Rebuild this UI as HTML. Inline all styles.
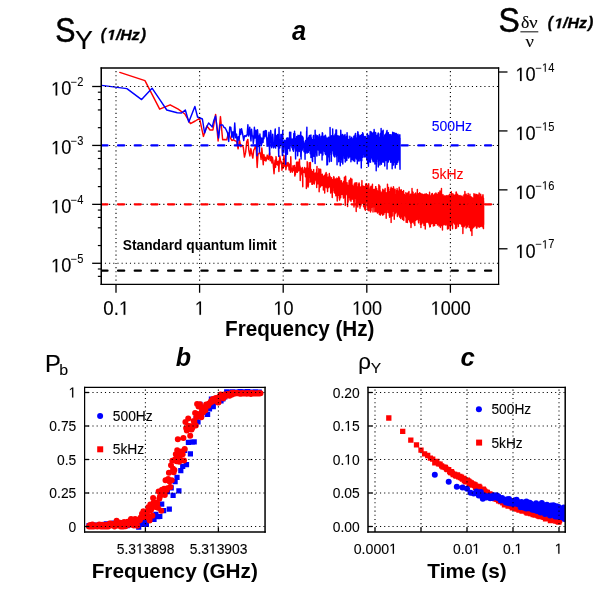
<!DOCTYPE html>
<html><head><meta charset="utf-8"><title>figure</title>
<style>html,body{margin:0;padding:0;background:#fff;}body{width:600px;height:600px;overflow:hidden;position:relative;font-family:"Liberation Sans",sans-serif;}</style></head>
<body>
<svg width="600" height="600" viewBox="0 0 600 600" style="position:absolute;left:0;top:0;will-change:transform">
<defs>
<clipPath id="ca"><rect x="101.25" y="68.0" width="397.35" height="216.35000000000002"/></clipPath>
<clipPath id="cb"><rect x="84.6" y="387.4" width="180.45000000000002" height="144.60000000000002"/></clipPath>
<clipPath id="cc"><rect x="368.0" y="387.4" width="197.20000000000005" height="144.60000000000002"/></clipPath>
</defs>
<g clip-path="url(#ca)" fill="none" stroke-linejoin="round" stroke-linecap="round">
<path d="M119.79,72.4 144.96,80.6 159.68,109.2 170.12,104.8 178.22,109.2 184.84,114.0 190.44,123.6 195.29,121.0 199.56,118.4 203.39,136.4 206.85,126.0 210.01,130.0 212.91,130.0 215.61,114.4 218.11,141.0 220.45,116.6 222.65,139.7 224.73,139.5 226.69,139.7 228.56,132.9 230.33,137.8 232.02,140.5 233.63,139.7 235.17,140.9 236.66,141.4 238.08,148.8 239.45,140.2 240.77,146.7 242.05,145.2 243.28,147.2 244.47,157.1 245.62,152.4 246.74,141.9 247.82,139.4 248.87,150.7 249.90,155.9 250.89,148.6 251.86,154.2 252.80,158.1 253.72,150.2 254.62,148.7 255.49,145.5 256.35,151.5 257.18,167.5 258.00,153.9 258.80,153.7 259.58,152.0 260.34,153.4 261.09,159.5 261.82,148.0 262.54,155.9 263.25,164.8 263.94,154.6 264.62,160.3 265.28,157.3 265.94,161.1 266.58,159.1 267.21,155.1 267.83,158.1 268.44,159.5 269.04,155.2 269.63,152.7 270.21,160.7 270.79,159.9 271.35,156.4 271.90,163.0 272.45,157.3 272.99,160.5 273.52,167.8 274.04,173.8 274.55,165.4 275.06,160.3 275.56,167.3 276.06,156.6 276.54,160.3 277.03,164.4 277.50,161.7 277.97,165.3 278.43,161.3 278.89,171.5 279.34,161.6 279.78,156.0 280.22,158.6 280.66,161.1 281.09,163.8 281.51,161.9 281.93,170.2 282.35,163.2 282.76,164.5 283.16,168.3 283.56,159.8 283.96,155.4 284.35,165.9 284.74,159.1 285.13,166.8 285.51,158.5 285.88,169.7 286.26,167.3 286.62,163.3 286.99,162.9 287.35,166.0 287.71,165.7 288.06,162.5 288.41,163.7 288.76,166.0 289.10,170.0 289.45,164.1 289.78,164.5 290.12,165.3 290.45,172.3 290.78,156.7 291.10,166.8 291.43,169.0 291.75,168.5 292.06,171.5 292.38,172.2 292.69,169.0 293.00,165.7 293.30,169.8 293.61,170.6 293.91,168.5 294.21,167.6 294.51,165.5 294.80,176.1 295.09,172.6 295.38,174.6 295.67,167.5 295.95,168.8 296.23,172.1 296.51,162.3 296.79,162.4 297.07,170.9 297.34,172.3 297.61,167.5 297.88,161.9 298.15,168.6 298.42,169.5 298.68,170.8 298.95,166.8 299.21,165.9 299.46,159.3 299.72,169.4 299.98,166.0 300.23,180.5 300.48,167.6 300.85,174.9 300.85,170.1 301.35,168.6 301.35,168.6 301.83,168.6 301.83,173.5 302.31,170.0 302.31,167.4 302.78,186.8 302.78,171.0 303.25,171.2 303.25,171.0 303.71,171.7 303.71,171.5 304.17,168.8 304.17,172.4 304.62,167.4 304.62,172.4 305.06,168.1 305.06,170.8 305.50,175.6 305.50,176.8 305.93,170.0 305.93,169.3 306.36,171.9 306.36,188.4 306.78,172.2 306.78,167.7 307.20,185.7 307.20,161.8 307.62,169.0 307.62,181.4 308.03,168.1 308.03,187.1 308.43,184.8 308.43,174.1 308.83,174.0 308.83,168.1 309.23,177.4 309.23,162.7 309.62,168.2 309.62,177.5 310.00,167.2 310.00,182.3 310.39,162.5 310.39,178.0 310.77,169.4 310.77,175.8 311.14,181.6 311.14,169.5 311.51,174.5 311.51,175.4 311.88,177.9 311.88,184.2 312.25,171.5 312.25,175.0 312.61,184.3 312.61,174.8 312.96,173.8 312.96,180.0 313.32,177.1 313.32,183.0 313.67,169.6 313.67,175.3 314.01,175.1 314.01,181.3 314.36,183.9 314.36,180.1 314.70,182.2 314.70,176.2 315.03,180.8 315.03,173.2 315.37,173.1 315.37,175.0 315.70,176.5 315.70,179.7 316.03,177.4 316.03,174.7 316.35,175.4 316.35,174.4 316.67,169.4 316.67,187.5 316.99,166.5 316.99,181.7 317.31,179.1 317.31,176.5 317.62,183.8 317.62,177.1 317.93,173.5 317.93,183.7 318.24,175.6 318.24,182.3 318.55,177.8 318.55,179.6 318.85,168.8 318.85,172.2 319.15,179.0 319.15,191.8 319.45,181.8 319.45,185.1 319.74,169.6 319.74,176.1 320.04,183.1 320.04,182.8 320.33,181.4 320.33,186.9 320.62,172.4 320.62,169.3 320.90,175.1 320.90,174.8 321.19,180.9 321.19,185.7 321.47,178.1 321.47,184.9 321.75,181.6 321.75,182.3 322.03,183.9 322.03,185.6 322.30,179.8 322.30,174.2 322.58,183.2 322.58,178.6 322.85,184.7 322.85,180.7 323.12,182.9 323.12,176.1 323.39,183.7 323.39,189.9 323.65,176.8 323.65,183.8 323.91,180.2 323.91,186.7 324.18,180.2 324.18,183.3 324.44,184.3 324.44,175.5 324.69,193.1 324.69,191.6 324.95,184.4 324.95,176.2 325.20,178.2 325.20,176.3 325.46,174.1 325.46,184.8 325.77,176.3 325.77,187.1 326.14,183.0 326.14,172.5 326.51,186.9 326.51,181.7 326.88,187.5 326.88,174.2 327.24,188.7 327.24,182.5 327.60,191.6 327.60,180.1 327.95,185.9 327.95,177.6 328.30,177.3 328.30,187.7 328.65,180.8 328.65,184.1 328.99,186.8 328.99,179.7 329.33,173.5 329.33,183.6 329.67,185.4 329.67,177.3 330.01,185.8 330.01,176.1 330.34,178.9 330.34,188.1 330.67,178.9 330.67,193.0 330.99,178.2 330.99,184.2 331.31,182.6 331.31,178.1 331.63,189.3 331.63,177.6 331.95,185.4 331.95,181.1 332.26,197.6 332.26,179.4 332.58,187.5 332.58,180.2 332.89,181.3 332.89,185.8 333.19,187.5 333.19,183.8 333.50,186.5 333.50,184.0 333.80,176.6 333.80,190.8 334.10,177.5 334.10,192.2 334.39,183.8 334.39,190.5 334.69,181.0 334.69,192.9 334.98,180.2 334.98,184.1 335.27,187.5 335.27,190.2 335.55,190.7 335.55,178.9 335.84,195.8 335.84,184.8 336.12,181.7 336.12,186.9 336.40,182.3 336.40,191.7 336.68,192.2 336.68,181.7 336.96,178.1 336.96,189.0 337.23,201.0 337.23,178.5 337.50,198.2 337.50,182.3 337.77,191.2 337.77,187.6 338.04,192.9 338.04,181.3 338.31,185.5 338.31,191.1 338.57,195.3 338.57,178.9 338.83,176.8 338.83,184.1 339.09,181.2 339.09,186.9 339.35,182.6 339.35,194.6 339.61,200.1 339.61,178.1 339.86,190.4 339.86,179.8 340.12,186.7 340.12,195.2 340.37,184.7 340.37,185.9 340.66,188.0 340.66,197.7 340.99,187.2 340.99,192.0 341.31,184.4 341.31,180.6 341.64,191.2 341.64,185.4 341.96,194.3 341.96,187.0 342.28,183.5 342.28,189.3 342.59,190.1 342.59,185.8 342.90,182.7 342.90,194.0 343.21,185.4 343.21,195.6 343.52,198.1 343.52,181.4 343.83,195.1 343.83,181.6 344.13,194.2 344.13,186.9 344.43,196.7 344.43,177.2 344.73,188.1 344.73,189.9 345.02,184.9 345.02,198.0 345.31,205.4 345.31,182.9 345.60,194.2 345.60,176.3 345.89,182.6 345.89,192.2 346.18,188.2 346.18,191.5 346.46,193.2 346.46,184.0 346.74,184.3 346.74,193.6 347.02,194.8 347.02,182.7 347.30,193.5 347.30,186.8 347.57,187.8 347.57,206.4 347.85,185.6 347.85,195.1 348.12,202.1 348.12,188.8 348.38,187.6 348.38,196.7 348.65,191.5 348.65,186.8 348.92,190.4 348.92,184.9 349.18,180.6 349.18,196.3 349.44,197.6 349.44,191.4 349.70,180.1 349.70,192.4 349.96,185.7 349.96,200.1 350.21,185.6 350.21,195.1 350.47,181.7 350.47,197.3 350.72,191.3 350.72,178.3 351.00,188.9 351.00,201.2 351.31,186.1 351.31,194.9 351.62,192.2 351.62,185.1 351.92,179.3 351.92,197.1 352.22,188.9 352.22,199.1 352.52,195.7 352.52,185.2 352.82,188.0 352.82,194.4 353.12,188.3 353.12,191.9 353.41,199.8 353.41,190.4 353.70,201.9 353.70,188.4 353.99,186.3 353.99,207.0 354.27,200.6 354.27,184.0 354.56,185.1 354.56,198.7 354.84,187.8 354.84,190.4 355.12,196.0 355.12,182.8 355.39,196.0 355.39,184.9 355.67,187.8 355.67,196.6 355.94,189.3 355.94,200.0 356.21,211.6 356.21,191.1 356.48,201.5 356.48,183.3 356.75,205.5 356.75,182.8 357.01,201.7 357.01,189.7 357.27,198.8 357.27,189.6 357.54,195.1 357.54,191.9 357.79,207.1 357.79,187.0 358.05,199.2 358.05,193.3 358.31,197.7 358.31,186.4 358.56,203.0 358.56,183.9 358.81,198.3 358.81,189.1 359.09,182.9 359.09,200.3 359.39,184.0 359.39,204.0 359.68,189.2 359.68,205.7 359.97,187.8 359.97,208.2 360.26,197.3 360.26,191.1 360.55,206.2 360.55,186.9 360.84,188.9 360.84,196.9 361.12,187.6 361.12,204.9 361.40,188.6 361.40,201.1 361.68,198.0 361.68,189.5 361.96,180.6 361.96,193.2 362.24,187.8 362.24,201.0 362.51,186.8 362.51,203.3 362.78,188.5 362.78,200.2 363.05,203.3 363.05,186.0 363.32,200.9 363.32,186.4 363.58,206.8 363.58,190.8 363.85,190.5 363.85,199.6 364.11,202.3 364.11,189.9 364.37,200.5 364.37,189.1 364.62,186.6 364.62,209.1 364.88,207.4 364.88,187.7 365.13,191.4 365.13,203.4 365.39,192.2 365.39,210.2 365.66,199.8 365.66,184.0 365.95,207.3 365.95,185.9 366.24,188.6 366.24,202.6 366.52,201.6 366.52,183.7 366.80,187.4 366.80,200.0 367.08,190.8 367.08,202.0 367.36,200.9 367.36,192.4 367.64,185.8 367.64,204.8 367.91,210.1 367.91,191.7 368.19,196.5 368.19,189.3 368.46,205.5 368.46,195.2 368.73,204.6 368.73,183.7 368.99,190.7 368.99,210.7 369.26,189.3 369.26,200.7 369.52,188.9 369.52,205.3 369.78,190.2 369.78,203.6 370.04,192.5 370.04,207.4 370.30,204.4 370.30,191.6 370.55,212.0 370.55,186.9 370.81,208.3 370.81,189.2 371.06,210.6 371.06,186.1 371.33,202.9 371.33,191.3 371.61,207.2 371.61,188.1 371.89,203.6 371.89,188.3 372.17,207.0 372.17,191.8 372.45,184.3 372.45,199.6 372.72,206.3 372.72,189.8 372.99,192.3 372.99,212.0 373.27,204.6 373.27,189.9 373.53,192.1 373.53,206.9 373.80,204.5 373.80,189.9 374.07,189.3 374.07,204.0 374.33,203.9 374.33,192.5 374.59,192.7 374.59,205.8 374.85,189.6 374.85,211.7 375.11,191.3 375.11,206.8 375.36,206.4 375.36,191.3 375.62,203.3 375.62,186.8 375.87,205.7 375.87,186.6 376.13,211.8 376.13,192.3 376.41,209.8 376.41,189.5 376.69,188.6 376.69,204.2 376.97,207.8 376.97,190.5 377.24,190.7 377.24,210.7 377.51,193.3 377.51,213.1 377.78,208.0 377.78,192.7 378.05,208.5 378.05,192.0 378.31,191.6 378.31,202.7 378.57,212.0 378.57,191.2 378.84,208.0 378.84,184.8 379.09,192.2 379.09,207.8 379.35,195.7 379.35,214.5 379.61,189.2 379.61,205.3 379.86,186.1 379.86,204.1 380.11,202.7 380.11,190.4 380.38,195.4 380.38,215.1 380.66,208.1 380.66,192.3 380.93,194.1 380.93,207.7 381.20,192.7 381.20,206.7 381.47,209.5 381.47,195.8 381.74,213.8 381.74,193.6 382.01,194.9 382.01,206.3 382.27,191.2 382.27,211.9 382.53,207.8 382.53,194.4 382.79,215.3 382.79,189.2 383.05,191.5 383.05,211.6 383.31,207.7 383.31,197.4 383.56,194.0 383.56,207.1 383.82,214.2 383.82,194.8 384.07,211.4 384.07,190.3 384.33,205.5 384.33,192.0 384.60,191.4 384.60,212.4 384.87,195.8 384.87,212.1 385.14,188.5 385.14,211.8 385.41,211.4 385.41,195.2 385.67,208.6 385.67,192.5 385.93,208.3 385.93,192.7 386.19,218.3 386.19,193.7 386.45,206.6 386.45,193.9 386.71,195.6 386.71,212.8 386.97,205.1 386.97,195.8 387.22,192.6 387.22,205.9 387.47,206.9 387.47,184.1 387.73,208.9 387.73,189.4 388.00,207.1 388.00,187.6 388.27,197.1 388.27,212.6 388.54,187.4 388.54,210.3 388.80,210.8 388.80,191.4 389.07,205.3 389.07,191.5 389.33,215.7 389.33,196.3 389.59,195.7 389.59,217.2 389.84,193.4 389.84,211.5 390.10,212.3 390.10,193.0 390.35,211.6 390.35,189.3 390.60,192.9 390.60,215.1 390.87,210.8 390.87,188.3 391.13,222.4 391.13,187.3 391.40,206.7 391.40,195.3 391.67,213.8 391.67,190.0 391.93,193.6 391.93,212.1 392.19,216.0 392.19,192.5 392.45,188.6 392.45,207.6 392.71,191.2 392.71,211.3 392.96,211.0 392.96,188.9 393.22,210.1 393.22,191.8 393.47,209.8 393.47,186.7 393.73,189.4 393.73,210.3 394.00,192.3 394.00,216.2 394.26,191.1 394.26,219.2 394.53,194.0 394.53,215.1 394.79,212.3 394.79,194.7 395.05,189.3 395.05,211.2 395.31,196.4 395.31,212.9 395.56,213.1 395.56,196.5 395.82,195.0 395.82,210.8 396.07,194.4 396.07,211.3 396.32,207.0 396.32,197.3 396.58,210.3 396.58,190.5 396.85,195.1 396.85,210.4 397.11,188.6 397.11,213.0 397.37,195.7 397.37,216.4 397.63,209.9 397.63,193.9 397.89,215.0 397.89,190.9 398.14,209.3 398.14,192.0 398.40,210.7 398.40,194.4 398.65,212.1 398.65,191.3 398.91,190.9 398.91,213.5 399.17,213.3 399.17,187.2 399.44,194.3 399.44,215.6 399.70,217.1 399.70,193.3 399.96,214.3 399.96,189.9 400.22,191.7 400.22,212.5 400.47,194.1 400.47,212.1 400.73,193.4 400.73,218.5 400.98,194.3 400.98,213.7 401.24,214.3 401.24,189.8 401.50,193.6 401.50,213.4 401.76,216.7 401.76,194.7 402.02,191.7 402.02,208.2 402.28,207.0 402.28,191.8 402.54,219.4 402.54,196.6 402.80,211.0 402.80,193.9 403.05,192.4 403.05,212.1 403.30,192.3 403.30,213.3 403.56,190.6 403.56,214.3 403.82,220.4 403.82,196.7 404.08,215.2 404.08,194.3 404.34,194.4 404.34,214.2 404.60,215.7 404.60,195.9 404.85,215.8 404.85,196.7 405.11,214.8 405.11,198.0 405.36,215.7 405.36,196.7 405.61,195.4 405.61,214.9 405.88,217.3 405.88,192.6 406.14,196.6 406.14,222.3 406.39,194.7 406.39,215.7 406.65,198.4 406.65,216.8 406.91,198.4 406.91,218.0 407.16,215.7 407.16,198.1 407.41,193.4 407.41,222.4 407.67,193.5 407.67,215.1 407.93,214.2 407.93,197.4 408.18,196.6 408.18,219.2 408.44,192.6 408.44,214.0 408.70,217.2 408.70,196.5 408.95,191.5 408.95,212.6 409.20,219.6 409.20,195.9 409.46,220.8 409.46,198.6 409.72,220.8 409.72,196.3 409.98,196.5 409.98,222.1 410.23,214.8 410.23,197.2 410.49,215.8 410.49,194.2 410.74,197.5 410.74,223.6 410.99,195.0 410.99,227.6 411.25,215.8 411.25,198.4 411.51,213.9 411.51,194.2 411.77,193.9 411.77,222.7 412.02,188.5 412.02,217.1 412.28,191.7 412.28,215.6 412.53,212.6 412.53,194.0 412.79,222.0 412.79,194.2 413.05,192.3 413.05,218.8 413.30,213.1 413.30,195.6 413.56,196.6 413.56,218.0 413.82,220.9 413.82,195.4 414.07,200.1 414.07,223.8 414.32,194.8 414.32,216.6 414.57,219.8 414.57,194.0 414.83,195.7 414.83,225.4 415.09,197.5 415.09,214.5 415.34,194.3 415.34,220.6 415.60,192.9 415.60,214.3 415.85,194.7 415.85,212.5 416.10,196.8 416.10,219.9 416.36,197.3 416.36,214.8 416.62,195.6 416.62,219.6 416.87,197.6 416.87,217.1 417.13,216.8 417.13,196.8 417.38,189.5 417.38,214.9 417.63,195.0 417.63,217.3 417.89,197.8 417.89,219.0 418.14,219.8 418.14,197.5 418.40,194.3 418.40,220.8 418.65,222.8 418.65,193.7 418.91,193.7 418.91,216.4 419.16,194.7 419.16,217.2 419.42,215.8 419.42,197.4 419.67,213.5 419.67,192.6 419.93,218.5 419.93,195.6 420.18,221.0 420.18,197.6 420.43,224.5 420.43,197.6 420.69,195.7 420.69,221.6 420.94,193.6 420.94,227.5 421.20,196.4 421.20,216.5 421.45,214.6 421.45,196.0 421.70,196.1 421.70,224.0 421.96,216.3 421.96,194.3 422.21,217.1 422.21,197.4 422.47,194.2 422.47,216.3 422.72,196.3 422.72,214.0 422.97,215.3 422.97,194.6 423.23,198.5 423.23,222.9 423.48,221.4 423.48,199.2 423.74,195.3 423.74,217.5 423.99,194.4 423.99,225.6 424.24,197.4 424.24,221.0 424.50,197.7 424.50,224.2 424.75,194.3 424.75,219.3 425.00,195.7 425.00,221.8 425.26,197.8 425.26,228.9 425.51,220.1 425.51,197.9 425.77,220.1 425.77,194.5 426.02,193.9 426.02,219.8 426.27,197.4 426.27,222.2 426.53,194.0 426.53,222.1 426.78,195.0 426.78,220.2 427.04,196.5 427.04,220.3 427.29,222.1 427.29,194.6 427.54,217.1 427.54,196.7 427.80,213.6 427.80,197.6 428.06,197.2 428.06,213.0 428.31,199.9 428.31,222.5 428.56,219.4 428.56,195.0 428.81,195.7 428.81,216.0 429.07,199.5 429.07,224.1 429.32,198.5 429.32,220.5 429.57,192.2 429.57,225.2 429.82,226.9 429.82,198.7 430.08,219.7 430.08,197.3 430.33,196.4 430.33,226.6 430.58,197.0 430.58,216.0 430.84,223.5 430.84,195.8 431.09,197.0 431.09,216.0 431.34,220.3 431.34,198.1 431.59,194.1 431.59,223.8 431.85,217.3 431.85,195.1 432.10,197.9 432.10,218.6 432.35,193.4 432.35,217.8 432.61,196.3 432.61,223.3 432.86,217.9 432.86,195.6 433.12,197.7 433.12,220.1 433.37,198.5 433.37,226.0 433.62,218.6 433.62,198.2 433.88,219.1 433.88,194.9 434.13,223.0 434.13,197.1 434.38,197.6 434.38,225.1 434.64,225.5 434.64,193.9 434.89,195.8 434.89,220.4 435.14,220.9 435.14,196.6 435.40,221.1 435.40,197.9 435.65,223.2 435.65,197.6 435.90,222.3 435.90,192.9 436.16,221.9 436.16,198.0 436.41,196.4 436.41,221.5 436.66,223.2 436.66,194.3 436.91,219.6 436.91,196.0 437.17,219.5 437.17,194.3 437.42,195.0 437.42,224.9 437.67,222.6 437.67,200.8 437.93,220.9 437.93,194.8 438.18,196.4 438.18,222.7 438.43,192.6 438.43,218.4 438.68,224.4 438.68,196.0 438.93,194.5 438.93,225.9 439.19,195.5 439.19,219.9 439.44,198.5 439.44,225.0 439.69,223.3 439.69,197.6 439.95,191.0 439.95,224.2 440.20,195.7 440.20,224.1 440.45,227.4 440.45,196.0 440.70,222.8 440.70,198.3 440.96,195.3 440.96,225.8 441.21,221.0 441.21,197.6 441.46,188.5 441.46,223.4 441.71,221.8 441.71,199.8 441.97,196.8 441.97,220.8 442.22,220.2 442.22,196.6 442.47,230.0 442.47,195.6 442.72,218.8 442.72,196.7 442.98,194.6 442.98,221.4 443.23,200.0 443.23,218.4 443.48,197.9 443.48,224.7 443.73,199.0 443.73,224.1 443.98,220.3 443.98,198.5 444.23,195.9 444.23,221.1 444.49,219.9 444.49,196.3 444.74,197.9 444.74,220.5 444.99,195.9 444.99,224.7 445.24,218.9 445.24,197.4 445.50,224.0 445.50,199.0 445.75,224.9 445.75,198.3 446.00,195.9 446.00,225.0 446.25,218.8 446.25,198.4 446.50,196.9 446.50,221.6 446.76,196.5 446.76,221.1 447.01,219.9 447.01,195.4 447.26,196.7 447.26,223.5 447.51,198.9 447.51,229.0 447.77,196.4 447.77,224.5 448.02,222.5 448.02,199.0 448.27,198.0 448.27,221.2 448.52,228.5 448.52,195.7 448.77,197.9 448.77,219.0 449.03,225.6 449.03,195.2 449.28,219.3 449.28,195.8 449.53,225.0 449.53,194.1 449.78,220.8 449.78,198.2 450.03,222.0 450.03,197.1 450.28,196.4 450.28,229.9 450.54,197.2 450.54,219.9 450.79,222.9 450.79,199.7 451.04,219.2 451.04,198.2 451.29,191.8 451.29,221.7 451.55,197.3 451.55,225.0 451.80,221.2 451.80,197.4 452.05,222.8 452.05,196.9 452.30,219.8 452.30,198.1 452.55,228.8 452.55,198.7 452.80,221.1 452.80,193.6 453.06,221.3 453.06,198.2 453.31,219.7 453.31,196.4 453.56,194.9 453.56,222.3 453.81,222.8 453.81,198.9 454.07,195.3 454.07,221.9 454.32,220.7 454.32,197.0 454.57,224.0 454.57,195.3 454.82,221.0 454.82,199.6 455.07,195.7 455.07,221.7 455.33,220.1 455.33,196.6 455.58,194.7 455.58,228.4 455.83,198.1 455.83,220.6 456.08,223.2 456.08,192.2 456.34,192.1 456.34,223.7 456.59,198.1 456.59,228.0 456.84,198.2 456.84,224.3 457.09,222.7 457.09,197.2 457.35,200.5 457.35,220.7 457.60,221.2 457.60,194.1 457.85,200.0 457.85,222.9 458.10,196.5 458.10,220.1 458.35,198.1 458.35,226.5 458.61,197.9 458.61,220.9 458.86,195.7 458.86,222.4 459.11,220.7 459.11,198.1 459.36,199.3 459.36,223.6 459.61,220.1 459.61,196.3 459.86,222.9 459.86,197.5 460.11,222.7 460.11,195.5 460.37,198.6 460.37,222.7 460.62,223.7 460.62,200.1 460.87,222.5 460.87,196.5 461.12,200.3 461.12,222.4 461.37,196.3 461.37,224.2 461.62,222.1 461.62,198.7 461.87,226.2 461.87,198.0 462.13,196.1 462.13,221.7 462.38,219.2 462.38,198.3 462.63,222.7 462.63,198.2 462.88,197.9 462.88,233.4 463.13,197.4 463.13,223.1 463.38,197.9 463.38,222.7 463.63,197.1 463.63,223.3 463.89,223.0 463.89,194.9 464.14,199.1 464.14,226.7 464.39,224.9 464.39,197.0 464.64,198.4 464.64,223.7 464.89,191.4 464.89,224.5 465.14,197.8 465.14,223.7 465.39,199.0 465.39,224.9 465.65,198.6 465.65,222.8 465.90,223.4 465.90,196.8 466.15,227.9 466.15,194.1 466.40,225.1 466.40,197.1 466.65,223.0 466.65,196.9 466.90,219.5 466.90,196.2 467.15,219.3 467.15,196.6 467.41,226.8 467.41,196.5 467.66,195.4 467.66,223.4 467.91,221.6 467.91,198.1 468.16,193.5 468.16,224.2 468.41,196.8 468.41,224.1 468.66,198.4 468.66,224.4 468.91,225.1 468.91,196.1 469.17,196.8 469.17,227.5 469.42,222.1 469.42,196.5 469.67,196.1 469.67,221.5 469.92,220.6 469.92,194.2 470.17,227.7 470.17,197.1 470.42,223.9 470.42,196.8 470.67,230.7 470.67,198.3 470.92,196.8 470.92,226.4 471.17,220.1 471.17,200.1 471.43,223.2 471.43,197.8 471.68,229.3 471.68,198.3 471.93,235.4 471.93,197.5 472.18,197.9 472.18,222.6 472.43,199.6 472.43,225.0 472.68,228.4 472.68,198.2 472.93,198.8 472.93,227.8 473.18,227.3 473.18,198.8 473.44,223.8 473.44,200.9 473.69,223.3 473.69,198.1 473.94,227.1 473.94,193.7 474.19,196.7 474.19,223.0 474.44,197.6 474.44,224.4 474.69,222.9 474.69,195.0 474.94,226.1 474.94,198.9 475.19,224.7 475.19,194.3 475.44,198.2 475.44,225.6 475.69,223.3 475.69,199.5 475.94,196.5 475.94,221.6 476.20,195.6 476.20,222.9 476.45,196.9 476.45,228.0 476.70,224.3 476.70,194.5 476.95,228.1 476.95,198.0 477.20,199.8 477.20,225.9 477.45,224.8 477.45,198.2 477.70,223.6 477.70,195.2 477.95,221.6 477.95,194.9 478.20,223.7 478.20,198.0 478.45,226.4 478.45,199.1 478.70,221.9 478.70,196.8 478.96,196.4 478.96,221.7 479.21,193.1 479.21,227.2 479.46,197.9 479.46,224.9 479.71,225.4 479.71,197.9 479.96,197.3 479.96,222.9 480.21,225.5 480.21,198.1 480.46,226.5 480.46,199.2 480.71,223.9 480.71,194.3 480.96,223.5 480.96,197.3 481.21,198.1 481.21,222.4 481.46,197.1 481.46,225.2 481.71,223.6 481.71,197.7 481.96,198.6 481.96,226.6 482.22,222.8 482.22,198.9 482.47,195.9 482.47,226.2 482.72,197.8 482.72,224.0 482.97,221.3 482.97,194.8 483.22,198.8 483.22,227.7 483.47,228.5 483.47,198.1 483.63,224.6 483.63,201.5" stroke="#ff0000" stroke-width="1.45"/>
<path d="M101.73,85.4 126.90,88.6 141.62,99.6 152.06,88.2 160.16,100.2 166.78,110.0 172.38,111.5 177.23,112.7 181.50,113.0 185.33,110.0 188.79,122.0 191.95,114.0 194.86,106.4 197.55,117.0 200.05,118.0 202.39,119.0 204.60,133.0 206.67,127.0 208.63,123.0 210.50,125.0 212.27,127.0 213.96,120.0 215.57,116.0 217.12,128.0 218.60,138.0 220.02,125.0 221.39,125.0 222.71,125.0 223.99,127.3 225.22,128.0 226.41,130.4 227.56,132.9 228.68,141.4 229.76,126.9 230.81,127.4 231.84,137.3 232.83,131.8 233.80,138.8 234.74,123.0 235.66,137.7 236.56,134.1 237.43,144.8 238.29,136.7 239.12,140.1 239.94,129.1 240.74,134.4 241.52,128.7 242.28,132.2 243.03,136.4 243.76,140.5 244.48,136.0 245.19,135.6 245.88,136.5 246.56,135.7 247.22,133.9 247.88,124.7 248.52,136.0 249.15,133.1 249.77,127.2 250.38,135.2 250.98,140.9 251.57,129.2 252.15,135.7 252.73,136.0 253.29,143.4 253.84,139.0 254.39,127.2 254.93,138.1 255.46,135.0 255.98,130.2 256.49,141.8 257.00,155.7 257.50,129.8 258.00,136.1 258.48,146.4 258.97,136.0 259.44,151.9 259.91,133.9 260.37,143.1 260.83,137.4 261.28,145.7 261.72,143.8 262.16,138.4 262.60,138.2 263.03,142.4 263.45,131.6 263.87,138.8 264.29,131.1 264.70,136.0 265.10,136.8 265.51,130.5 265.90,134.9 266.29,130.8 266.68,136.5 267.07,146.3 267.45,139.9 267.82,145.9 268.20,137.7 268.56,137.8 268.93,132.2 269.29,145.4 269.65,154.8 270.00,135.1 270.35,140.2 270.70,130.5 271.05,134.3 271.39,143.9 271.72,147.7 272.06,142.5 272.39,143.4 272.72,134.2 273.04,137.9 273.37,145.5 273.69,147.9 274.00,146.8 274.32,145.6 274.63,146.0 274.94,130.9 275.25,129.0 275.55,148.1 275.85,143.1 276.15,135.6 276.45,137.0 276.74,136.1 277.03,146.1 277.32,139.8 277.61,134.4 277.89,137.8 278.18,143.1 278.46,148.2 278.73,156.4 279.01,127.5 279.28,141.1 279.56,146.0 279.83,148.0 280.09,143.6 280.36,140.3 280.62,143.7 280.89,134.4 281.15,145.1 281.40,134.4 281.66,137.7 281.92,136.1 282.17,150.1 282.42,155.6 282.79,130.4 282.79,137.0 283.29,148.4 283.29,141.2 283.77,146.0 283.77,152.8 284.25,145.3 284.25,142.9 284.72,141.0 284.72,140.1 285.19,140.8 285.19,146.4 285.65,145.8 285.65,164.2 286.11,153.6 286.11,146.7 286.56,138.2 286.56,147.9 287.00,150.3 287.00,140.6 287.44,154.2 287.44,139.8 287.87,142.2 287.87,137.8 288.30,146.7 288.30,142.4 288.73,148.5 288.73,139.1 289.14,146.1 289.14,140.5 289.56,139.4 289.56,132.2 289.97,151.0 289.97,145.0 290.37,137.1 290.37,134.3 290.77,132.3 290.77,136.3 291.17,141.1 291.17,140.1 291.56,144.5 291.56,141.8 291.95,147.8 291.95,143.2 292.33,138.9 292.33,147.7 292.71,146.3 292.71,149.8 293.08,149.9 293.08,143.0 293.45,146.8 293.45,151.2 293.82,133.5 293.82,140.0 294.19,145.9 294.19,140.3 294.55,131.3 294.55,144.9 294.90,133.4 294.90,146.5 295.26,149.5 295.26,141.3 295.61,158.9 295.61,150.7 295.95,138.3 295.95,146.5 296.30,141.4 296.30,150.9 296.64,136.6 296.64,143.6 296.97,143.3 296.97,141.0 297.31,146.1 297.31,140.7 297.64,136.5 297.64,155.8 297.97,145.7 297.97,135.2 298.29,143.5 298.29,136.1 298.61,142.5 298.61,135.7 298.93,138.6 298.93,136.8 299.25,151.5 299.25,143.2 299.56,137.6 299.56,149.2 299.87,135.2 299.87,143.6 300.18,137.6 300.18,146.2 300.49,143.4 300.49,135.2 300.79,132.0 300.79,156.5 301.09,143.0 301.09,159.0 301.39,145.9 301.39,146.6 301.69,140.9 301.69,135.9 301.98,140.0 301.98,150.5 302.27,149.5 302.27,142.7 302.56,136.6 302.56,144.5 302.85,145.0 302.85,147.0 303.13,137.8 303.13,141.8 303.41,143.4 303.41,144.0 303.69,141.3 303.69,146.6 303.97,151.7 303.97,151.2 304.24,146.3 304.24,148.1 304.52,143.3 304.52,143.1 304.79,150.1 304.79,146.7 305.06,159.3 305.06,149.2 305.33,148.0 305.33,145.7 305.59,144.7 305.59,140.5 305.86,153.3 305.86,146.2 306.12,142.7 306.12,144.4 306.38,147.5 306.38,148.8 306.63,131.6 306.63,146.7 306.89,127.3 306.89,141.4 307.15,147.4 307.15,148.1 307.40,152.9 307.40,151.9 307.71,149.0 307.71,144.3 308.08,138.7 308.08,143.5 308.45,152.2 308.45,137.7 308.82,140.4 308.82,150.7 309.18,141.6 309.18,135.9 309.54,147.3 309.54,135.4 309.89,146.2 309.89,137.6 310.24,137.8 310.24,153.7 310.59,151.7 310.59,144.9 310.93,135.0 310.93,157.5 311.27,148.0 311.27,137.8 311.61,147.7 311.61,143.2 311.95,155.1 311.95,140.4 312.28,147.0 312.28,160.4 312.61,161.5 312.61,139.5 312.93,148.8 312.93,145.7 313.25,146.3 313.25,137.1 313.57,135.4 313.57,149.4 313.89,156.3 313.89,145.8 314.21,139.4 314.21,152.8 314.52,141.6 314.52,148.1 314.83,142.3 314.83,147.8 315.13,163.5 315.13,130.3 315.44,152.0 315.44,141.0 315.74,144.7 315.74,147.5 316.04,135.0 316.04,149.5 316.33,149.6 316.33,140.8 316.63,141.5 316.63,154.3 316.92,156.1 316.92,141.2 317.21,149.9 317.21,140.2 317.49,149.9 317.49,135.6 317.78,137.8 317.78,143.2 318.06,146.5 318.06,145.0 318.34,146.8 318.34,150.1 318.62,146.4 318.62,141.9 318.90,147.4 318.90,138.1 319.17,155.2 319.17,136.0 319.44,134.5 319.44,146.3 319.71,147.8 319.71,144.2 319.98,143.1 319.98,148.0 320.25,144.2 320.25,152.5 320.51,137.9 320.51,153.1 320.77,143.3 320.77,150.4 321.03,147.9 321.03,136.2 321.29,148.5 321.29,143.5 321.55,153.1 321.55,141.6 321.80,147.0 321.80,141.8 322.06,141.5 322.06,160.0 322.31,132.7 322.31,155.2 322.60,151.5 322.60,133.3 322.93,155.1 322.93,140.0 323.25,142.4 323.25,146.8 323.58,138.8 323.58,149.9 323.90,150.8 323.90,137.5 324.22,136.1 324.22,148.5 324.53,151.5 324.53,143.2 324.85,149.3 324.85,137.4 325.16,140.0 325.16,153.8 325.46,135.3 325.46,151.7 325.77,154.6 325.77,142.4 326.07,150.9 326.07,136.9 326.37,154.8 326.37,138.6 326.67,148.3 326.67,142.0 326.96,165.0 326.96,142.5 327.25,138.5 327.25,144.3 327.54,139.0 327.54,164.4 327.83,147.4 327.83,138.2 328.12,137.7 328.12,148.9 328.40,137.2 328.40,156.8 328.68,152.4 328.68,141.4 328.96,143.0 328.96,151.7 329.24,145.1 329.24,150.7 329.51,161.7 329.51,137.4 329.79,137.0 329.79,147.3 330.06,146.5 330.06,127.5 330.33,146.9 330.33,138.7 330.59,143.3 330.59,152.0 330.86,151.9 330.86,146.2 331.12,155.0 331.12,135.9 331.38,161.3 331.38,140.5 331.64,135.7 331.64,152.1 331.90,138.6 331.90,150.4 332.15,138.8 332.15,147.7 332.41,142.0 332.41,148.5 332.66,150.1 332.66,129.0 332.94,149.4 332.94,143.0 333.25,135.6 333.25,154.0 333.56,150.6 333.56,139.0 333.86,156.0 333.86,143.1 334.16,149.2 334.16,140.7 334.46,152.3 334.46,135.8 334.76,138.5 334.76,156.9 335.06,151.0 335.06,134.2 335.35,137.6 335.35,154.6 335.64,140.9 335.64,147.0 335.93,130.1 335.93,153.2 336.21,150.2 336.21,134.3 336.50,156.8 336.50,129.9 336.78,156.0 336.78,142.6 337.06,164.8 337.06,143.4 337.33,153.2 337.33,136.2 337.61,138.8 337.61,149.5 337.88,155.2 337.88,135.8 338.15,151.6 338.15,142.1 338.42,153.1 338.42,142.3 338.69,161.8 338.69,136.1 338.95,156.4 338.95,140.5 339.21,157.6 339.21,136.5 339.48,136.2 339.48,148.1 339.74,139.7 339.74,148.1 339.99,150.8 339.99,141.1 340.25,165.7 340.25,141.5 340.50,137.9 340.50,160.0 340.75,146.7 340.75,130.3 341.03,137.2 341.03,155.1 341.33,135.5 341.33,151.7 341.62,148.2 341.62,135.1 341.91,138.7 341.91,162.2 342.21,152.6 342.21,143.9 342.49,153.1 342.49,134.4 342.78,134.7 342.78,164.0 343.06,152.4 343.06,140.6 343.35,149.2 343.35,136.7 343.62,151.0 343.62,137.4 343.90,137.5 343.90,155.4 344.18,150.4 344.18,135.8 344.45,139.2 344.45,158.3 344.72,154.8 344.72,144.0 344.99,150.7 344.99,134.5 345.26,140.8 345.26,162.0 345.52,140.8 345.52,155.9 345.79,157.3 345.79,138.6 346.05,137.8 346.05,160.5 346.31,152.4 346.31,144.3 346.56,154.1 346.56,136.2 346.82,160.4 346.82,142.0 347.07,150.9 347.07,132.8 347.33,144.3 347.33,138.4 347.60,136.0 347.60,155.3 347.89,156.0 347.89,139.8 348.18,150.6 348.18,143.8 348.46,140.2 348.46,158.1 348.74,139.6 348.74,157.9 349.03,144.5 349.03,155.1 349.30,141.9 349.30,155.4 349.58,152.4 349.58,141.0 349.86,156.8 349.86,136.3 350.13,138.4 350.13,152.5 350.40,141.5 350.40,149.0 350.67,154.5 350.67,138.4 350.93,139.6 350.93,161.7 351.20,144.7 351.20,151.8 351.46,140.8 351.46,154.8 351.72,156.5 351.72,137.3 351.98,159.5 351.98,140.2 352.24,139.1 352.24,153.6 352.49,157.6 352.49,141.9 352.75,139.4 352.75,152.8 353.00,142.8 353.00,149.5 353.27,138.5 353.27,160.7 353.55,139.5 353.55,159.9 353.83,136.3 353.83,153.5 354.11,153.9 354.11,144.3 354.39,149.1 354.39,139.7 354.66,144.5 354.66,161.4 354.94,157.9 354.94,135.0 355.21,151.1 355.21,140.2 355.47,133.4 355.47,157.8 355.74,149.6 355.74,135.5 356.01,153.9 356.01,142.0 356.27,155.6 356.27,137.9 356.53,142.1 356.53,159.0 356.79,139.6 356.79,158.3 357.05,139.2 357.05,153.2 357.30,138.6 357.30,163.8 357.56,133.1 357.56,149.9 357.81,155.4 357.81,131.6 358.07,132.5 358.07,160.9 358.35,137.5 358.35,148.5 358.63,134.5 358.63,159.7 358.91,158.7 358.91,141.9 359.18,161.1 359.18,136.3 359.45,159.3 359.45,138.4 359.72,140.3 359.72,159.1 359.99,146.9 359.99,137.6 360.25,153.3 360.25,135.5 360.51,157.9 360.51,135.6 360.78,139.1 360.78,160.7 361.04,154.0 361.04,138.8 361.29,167.9 361.29,140.2 361.55,151.9 361.55,134.6 361.80,160.8 361.80,139.6 362.06,156.3 362.06,141.8 362.32,138.9 362.32,151.2 362.60,156.0 362.60,132.6 362.87,157.2 362.87,135.5 363.14,154.4 363.14,133.6 363.41,140.1 363.41,153.2 363.68,154.0 363.68,139.2 363.95,152.7 363.95,142.7 364.21,150.8 364.21,136.4 364.47,156.9 364.47,139.5 364.73,140.6 364.73,156.6 364.99,137.9 364.99,155.6 365.25,156.2 365.25,136.5 365.50,141.9 365.50,156.7 365.76,141.4 365.76,155.0 366.01,151.7 366.01,138.5 366.27,156.2 366.27,144.0 366.54,138.6 366.54,152.8 366.81,160.1 366.81,139.8 367.08,158.4 367.08,136.9 367.35,133.6 367.35,152.6 367.61,139.2 367.61,163.6 367.87,155.3 367.87,140.1 368.14,154.3 368.14,135.3 368.39,144.4 368.39,166.3 368.65,159.7 368.65,141.2 368.91,150.3 368.91,136.0 369.16,137.4 369.16,162.0 369.41,143.0 369.41,160.9 369.67,161.7 369.67,140.1 369.94,154.1 369.94,136.3 370.21,131.4 370.21,153.1 370.48,162.2 370.48,141.4 370.74,137.0 370.74,158.2 371.01,136.5 371.01,153.7 371.27,132.0 371.27,152.7 371.53,139.9 371.53,153.7 371.78,137.4 371.78,154.1 372.04,139.7 372.04,157.7 372.29,159.5 372.29,133.2 372.55,154.2 372.55,135.1 372.81,161.1 372.81,142.0 373.08,135.2 373.08,161.7 373.34,156.5 373.34,132.5 373.61,136.0 373.61,154.5 373.87,135.2 373.87,161.4 374.13,155.4 374.13,129.5 374.39,136.6 374.39,153.8 374.65,156.4 374.65,131.9 374.90,139.2 374.90,163.9 375.16,138.2 375.16,160.6 375.41,141.6 375.41,152.5 375.67,153.8 375.67,132.6 375.94,138.2 375.94,155.9 376.20,139.5 376.20,170.7 376.47,139.5 376.47,162.1 376.73,137.9 376.73,154.6 376.99,159.0 376.99,138.6 377.25,135.3 377.25,155.3 377.50,158.1 377.50,135.1 377.76,158.6 377.76,139.9 378.01,133.5 378.01,157.9 378.26,167.1 378.26,132.9 378.52,140.5 378.52,153.8 378.79,134.0 378.79,160.5 379.05,138.7 379.05,159.1 379.31,137.1 379.31,158.6 379.57,139.6 379.57,154.6 379.83,137.5 379.83,165.1 380.08,158.7 380.08,138.3 380.34,137.8 380.34,161.2 380.59,161.0 380.59,133.2 380.85,150.7 380.85,138.4 381.11,154.8 381.11,128.5 381.38,143.2 381.38,164.3 381.64,136.3 381.64,158.1 381.90,160.1 381.90,142.4 382.16,161.1 382.16,134.6 382.41,131.2 382.41,154.3 382.67,162.0 382.67,138.1 382.92,136.1 382.92,160.4 383.18,130.2 383.18,156.2 383.44,159.2 383.44,137.9 383.71,138.7 383.71,161.9 383.97,139.4 383.97,155.3 384.22,160.7 384.22,140.4 384.48,137.0 384.48,160.1 384.74,135.0 384.74,166.0 384.99,135.5 384.99,161.3 385.24,154.5 385.24,137.1 385.50,155.8 385.50,142.0 385.76,134.1 385.76,158.5 386.02,160.6 386.02,137.8 386.28,135.2 386.28,152.4 386.54,132.0 386.54,160.5 386.79,158.7 386.79,131.8 387.05,130.4 387.05,169.0 387.30,154.3 387.30,138.5 387.55,156.3 387.55,134.4 387.82,141.4 387.82,157.2 388.08,157.4 388.08,138.5 388.34,132.8 388.34,162.1 388.59,135.6 388.59,156.7 388.85,137.0 388.85,158.3 389.10,136.6 389.10,159.9 389.35,159.6 389.35,134.8 389.61,134.9 389.61,151.3 389.87,158.7 389.87,139.5 390.13,140.6 390.13,159.4 390.38,134.9 390.38,157.1 390.64,134.7 390.64,162.3 390.89,154.0 390.89,137.0 391.14,137.2 391.14,155.9 391.40,161.9 391.40,137.1 391.66,136.7 391.66,152.8 391.92,161.7 391.92,136.2 392.17,168.7 392.17,134.5 392.43,158.6 392.43,138.6 392.68,132.3 392.68,161.3 392.93,133.6 392.93,154.3 393.19,138.6 393.19,159.0 393.45,136.4 393.45,165.0 393.71,135.0 393.71,154.9 393.96,162.5 393.96,132.6 394.22,159.0 394.22,138.4 394.47,156.3 394.47,137.6 394.73,139.7 394.73,157.3 394.99,133.3 394.99,156.4 395.24,136.5 395.24,168.1 395.50,155.2 395.50,136.5 395.76,161.0 395.76,141.2 396.01,159.8 396.01,134.1 396.26,163.7 396.26,133.4 396.52,135.8 396.52,162.9 396.77,164.4 396.77,135.2 397.03,137.6 397.03,155.7 397.29,135.4 397.29,160.0 397.54,155.2 397.54,139.5 397.79,141.2 397.79,162.2 398.04,160.7 398.04,134.2 398.30,138.0 398.30,158.7 398.56,136.4 398.56,157.9 398.81,136.4 398.81,154.5 399.07,136.0 399.07,159.8 399.32,157.2 399.32,138.7 399.57,135.6 399.57,157.6 399.83,134.8 399.83,162.8 400.02,169.3 400.02,137.9" stroke="#0000ff" stroke-width="1.45"/>
</g>
<g stroke="#000" stroke-width="1.1" fill="none">
<line x1="104.92" y1="86.50" x2="498.6" y2="86.50" stroke-dasharray="1.1 3.07"/>
<line x1="104.92" y1="145.43" x2="498.6" y2="145.43" stroke-dasharray="1.1 3.07"/>
<line x1="104.92" y1="204.36" x2="498.6" y2="204.36" stroke-dasharray="1.1 3.07"/>
<line x1="104.92" y1="263.29" x2="498.6" y2="263.29" stroke-dasharray="1.1 3.07"/>
<line x1="116.00" y1="280.68" x2="116.00" y2="68.0" stroke-dasharray="1.1 3.07"/>
<line x1="199.60" y1="280.68" x2="199.60" y2="68.0" stroke-dasharray="1.1 3.07"/>
<line x1="283.20" y1="280.68" x2="283.20" y2="68.0" stroke-dasharray="1.1 3.07"/>
<line x1="366.80" y1="280.68" x2="366.80" y2="68.0" stroke-dasharray="1.1 3.07"/>
<line x1="450.40" y1="280.68" x2="450.40" y2="68.0" stroke-dasharray="1.1 3.07"/>
</g>
<g clip-path="url(#ca)" fill="none" stroke-linecap="round">
<line x1="101.40" y1="145.43" x2="498.6" y2="145.43" stroke="#0000ff" stroke-width="2.3" stroke-dasharray="6.1 10.58"/>
<line x1="101.40" y1="204.36" x2="498.6" y2="204.36" stroke="#ff0000" stroke-width="2.3" stroke-dasharray="6.1 10.58"/>
<line x1="101.40" y1="270.70" x2="498.6" y2="270.70" stroke="#000000" stroke-width="2.3" stroke-dasharray="6.1 10.58"/>
</g>
<g stroke="#000" fill="none" stroke-linecap="butt">
<line x1="101.25" y1="67.35" x2="101.25" y2="285.0" stroke-width="1.55"/>
<line x1="100.55" y1="284.35" x2="499.20000000000005" y2="284.35" stroke-width="1.3"/>
<line x1="498.6" y1="67.35" x2="498.6" y2="285.0" stroke-width="1.25"/>
<line x1="100.55" y1="68.0" x2="499.20000000000005" y2="68.0" stroke-width="1.3"/>
<line x1="92.15" y1="86.50" x2="101.25" y2="86.50" stroke-width="1.3"/>
<line x1="92.15" y1="145.43" x2="101.25" y2="145.43" stroke-width="1.3"/>
<line x1="92.15" y1="204.36" x2="101.25" y2="204.36" stroke-width="1.3"/>
<line x1="92.15" y1="263.29" x2="101.25" y2="263.29" stroke-width="1.3"/>
<line x1="97.85" y1="127.69" x2="101.25" y2="127.69" stroke-width="1.2"/>
<line x1="97.85" y1="109.95" x2="101.25" y2="109.95" stroke-width="1.2"/>
<line x1="97.85" y1="99.57" x2="101.25" y2="99.57" stroke-width="1.2"/>
<line x1="97.85" y1="92.21" x2="101.25" y2="92.21" stroke-width="1.2"/>
<line x1="97.85" y1="186.62" x2="101.25" y2="186.62" stroke-width="1.2"/>
<line x1="97.85" y1="168.88" x2="101.25" y2="168.88" stroke-width="1.2"/>
<line x1="97.85" y1="158.50" x2="101.25" y2="158.50" stroke-width="1.2"/>
<line x1="97.85" y1="151.14" x2="101.25" y2="151.14" stroke-width="1.2"/>
<line x1="97.85" y1="245.55" x2="101.25" y2="245.55" stroke-width="1.2"/>
<line x1="97.85" y1="227.81" x2="101.25" y2="227.81" stroke-width="1.2"/>
<line x1="97.85" y1="217.43" x2="101.25" y2="217.43" stroke-width="1.2"/>
<line x1="97.85" y1="210.07" x2="101.25" y2="210.07" stroke-width="1.2"/>
<line x1="97.85" y1="276.36" x2="101.25" y2="276.36" stroke-width="1.2"/>
<line x1="97.85" y1="269.00" x2="101.25" y2="269.00" stroke-width="1.2"/>
<line x1="498.6" y1="72.00" x2="507.50" y2="72.00" stroke-width="1.3"/>
<line x1="498.6" y1="130.93" x2="507.50" y2="130.93" stroke-width="1.3"/>
<line x1="498.6" y1="189.86" x2="507.50" y2="189.86" stroke-width="1.3"/>
<line x1="498.6" y1="248.79" x2="507.50" y2="248.79" stroke-width="1.3"/>
<line x1="116.00" y1="284.35" x2="116.00" y2="292.75" stroke-width="1.3"/>
<line x1="199.60" y1="284.35" x2="199.60" y2="292.75" stroke-width="1.3"/>
<line x1="283.20" y1="284.35" x2="283.20" y2="292.75" stroke-width="1.3"/>
<line x1="366.80" y1="284.35" x2="366.80" y2="292.75" stroke-width="1.3"/>
<line x1="450.40" y1="284.35" x2="450.40" y2="292.75" stroke-width="1.3"/>
</g>
<g clip-path="url(#cb)">
<path d="M89.0,525.7h.01M90.9,525.3h.01M92.8,526.0h.01M94.7,525.5h.01M96.6,525.0h.01M98.6,525.7h.01M100.5,525.8h.01M102.4,525.6h.01M104.3,524.9h.01M106.2,523.9h.01M108.1,525.2h.01M110.0,525.1h.01M111.9,525.4h.01M113.9,523.2h.01M115.8,524.9h.01M117.7,524.3h.01M119.6,525.0h.01M121.5,525.2h.01M123.4,525.7h.01M125.3,525.3h.01M127.2,525.6h.01M129.2,522.5h.01M131.1,523.6h.01M133.0,524.6h.01M134.9,521.5h.01M136.8,520.2h.01M138.7,527.2h.01M140.6,522.4h.01M142.5,524.4h.01M144.5,520.6h.01M146.4,524.4h.01M148.3,517.8h.01M150.2,516.9h.01M152.1,516.9h.01M154.0,519.4h.01M155.9,514.3h.01M157.8,516.6h.01M159.8,516.5h.01M161.7,504.2h.01M163.6,510.6h.01M165.5,491.8h.01M167.4,491.7h.01M169.3,509.2h.01M171.2,487.8h.01M173.1,495.3h.01M175.1,481.7h.01M177.0,477.3h.01M178.9,490.8h.01M180.8,470.7h.01M182.7,466.3h.01M184.6,450.5h.01M186.5,464.7h.01M188.4,442.4h.01M190.4,453.8h.01M192.3,442.2h.01M194.2,441.8h.01M196.1,418.7h.01M198.0,422.0h.01M199.9,404.4h.01M201.8,414.7h.01M203.7,410.3h.01M205.7,407.8h.01M207.6,414.5h.01M209.5,408.9h.01M211.4,399.0h.01M213.3,406.7h.01M215.2,402.2h.01M217.1,401.8h.01M219.0,397.9h.01M221.0,400.8h.01M222.9,399.0h.01M224.8,396.8h.01M226.7,391.8h.01M228.6,392.2h.01M230.5,392.2h.01M232.4,391.9h.01M234.3,392.1h.01M236.3,392.1h.01M238.2,392.3h.01M240.1,391.6h.01M242.0,391.8h.01M243.9,392.2h.01M245.8,391.8h.01M247.7,391.7h.01M249.6,392.4h.01M251.6,392.1h.01M253.5,392.0h.01M255.4,391.8h.01M257.3,392.0h.01M259.2,392.0h.01" stroke="#0000ff" stroke-width="5.2" stroke-linecap="square" fill="none"/>
<path d="M89.0,526.4h.01M89.7,525.3h.01M90.4,525.1h.01M91.1,526.5h.01M91.8,526.5h.01M92.4,524.6h.01M93.1,526.5h.01M93.8,526.5h.01M94.5,526.2h.01M95.2,525.9h.01M95.9,525.5h.01M96.6,525.9h.01M97.3,526.5h.01M98.0,525.8h.01M98.6,526.0h.01M99.3,524.6h.01M100.0,526.1h.01M100.7,526.5h.01M101.4,526.5h.01M102.1,524.7h.01M102.8,526.5h.01M103.5,526.5h.01M104.2,526.5h.01M104.8,526.0h.01M105.5,524.7h.01M106.2,526.5h.01M106.9,525.1h.01M107.6,524.9h.01M108.3,526.5h.01M109.0,526.0h.01M109.7,523.6h.01M110.4,523.5h.01M111.0,524.5h.01M111.7,525.2h.01M112.4,524.0h.01M113.1,525.7h.01M113.8,525.6h.01M114.5,526.5h.01M115.2,525.3h.01M115.9,525.4h.01M116.6,520.8h.01M117.2,525.4h.01M117.9,522.9h.01M118.6,522.7h.01M119.3,525.2h.01M120.0,522.7h.01M120.7,526.5h.01M121.4,524.4h.01M122.1,522.8h.01M122.7,526.5h.01M123.4,526.5h.01M124.1,521.9h.01M124.8,524.6h.01M125.5,526.3h.01M126.2,524.6h.01M126.9,524.9h.01M127.6,521.7h.01M128.3,522.2h.01M128.9,523.8h.01M129.6,524.7h.01M130.3,522.9h.01M131.0,519.0h.01M131.7,521.4h.01M132.4,520.3h.01M133.1,522.4h.01M133.8,525.5h.01M134.5,523.6h.01M135.1,519.1h.01M135.8,520.5h.01M136.5,523.6h.01M137.2,525.7h.01M137.9,519.6h.01M138.6,520.8h.01M139.3,520.5h.01M140.0,520.1h.01M140.7,517.4h.01M141.3,517.0h.01M142.0,513.8h.01M142.7,513.4h.01M143.4,511.2h.01M144.1,512.8h.01M144.8,517.2h.01M145.5,515.5h.01M146.2,512.4h.01M146.9,515.5h.01M147.5,510.9h.01M148.2,507.2h.01M148.9,516.1h.01M149.6,520.4h.01M150.3,504.6h.01M151.0,509.9h.01M151.7,505.4h.01M152.4,515.7h.01M153.1,497.9h.01M153.7,502.5h.01M154.4,506.5h.01M155.1,506.9h.01M155.8,503.1h.01M156.5,503.8h.01M157.2,503.5h.01M157.9,507.8h.01M158.6,491.5h.01M159.3,498.7h.01M159.9,496.7h.01M160.6,495.3h.01M161.3,510.8h.01M162.0,489.8h.01M162.7,494.4h.01M163.4,492.7h.01M164.1,488.8h.01M164.8,494.9h.01M165.5,480.2h.01M166.1,490.0h.01M166.8,490.1h.01M167.5,488.3h.01M168.2,479.0h.01M168.9,472.8h.01M169.6,481.5h.01M170.3,487.0h.01M171.0,465.2h.01M171.7,480.2h.01M172.3,460.7h.01M173.0,468.8h.01M173.7,472.2h.01M174.4,470.0h.01M175.1,459.4h.01M175.8,454.2h.01M176.5,461.2h.01M177.2,450.2h.01M177.8,439.3h.01M178.5,455.9h.01M179.2,461.7h.01M179.9,459.1h.01M180.6,460.0h.01M181.3,452.3h.01M182.0,451.2h.01M182.7,454.2h.01M183.4,438.1h.01M184.0,460.6h.01M184.7,449.0h.01M185.4,422.1h.01M186.1,428.0h.01M186.8,430.4h.01M187.5,429.4h.01M188.2,418.4h.01M188.9,426.0h.01M189.6,427.9h.01M190.2,435.7h.01M190.9,426.2h.01M191.6,429.4h.01M192.3,427.9h.01M193.0,426.6h.01M193.7,421.0h.01M194.4,421.7h.01M195.1,412.9h.01M195.8,425.6h.01M196.4,417.3h.01M197.1,404.1h.01M197.8,414.0h.01M198.5,406.4h.01M199.2,405.9h.01M199.9,404.2h.01M200.6,406.6h.01M201.3,417.3h.01M202.0,410.5h.01M202.6,409.5h.01M203.3,412.3h.01M204.0,408.3h.01M204.7,409.9h.01M205.4,410.3h.01M206.1,404.4h.01M206.8,404.5h.01M207.5,405.7h.01M208.2,405.8h.01M208.8,404.2h.01M209.5,403.3h.01M210.2,402.8h.01M210.9,401.5h.01M211.6,402.0h.01M212.3,399.6h.01M213.0,399.0h.01M213.7,399.0h.01M214.4,400.8h.01M215.0,400.4h.01M215.7,397.9h.01M216.4,398.8h.01M217.1,398.2h.01M217.8,402.6h.01M218.5,402.6h.01M219.2,396.7h.01M219.9,396.5h.01M220.6,394.5h.01M221.2,395.5h.01M221.9,396.1h.01M222.6,396.2h.01M223.3,398.3h.01M224.0,394.6h.01M224.7,396.6h.01M225.4,394.8h.01M226.1,395.1h.01M226.8,394.9h.01M227.4,393.9h.01M228.1,395.6h.01M228.8,395.3h.01M229.5,395.8h.01M230.2,395.1h.01M230.9,393.3h.01M231.6,394.8h.01M232.3,393.3h.01M232.9,392.8h.01M233.6,393.4h.01M234.3,393.8h.01M235.0,393.6h.01M235.7,393.0h.01M236.4,393.3h.01M237.1,393.3h.01M237.8,393.2h.01M238.5,393.3h.01M239.1,393.5h.01M239.8,393.8h.01M240.5,393.3h.01M241.2,393.7h.01M241.9,393.4h.01M242.6,393.1h.01M243.3,393.3h.01M244.0,393.4h.01M244.7,393.4h.01M245.3,393.3h.01M246.0,393.3h.01M246.7,393.7h.01M247.4,393.4h.01M248.1,393.1h.01M248.8,393.3h.01M249.5,393.6h.01M250.2,393.6h.01M250.9,393.9h.01M251.5,393.6h.01M252.2,393.1h.01M252.9,393.5h.01M253.6,393.6h.01M254.3,393.6h.01M255.0,393.5h.01M255.7,393.5h.01M256.4,393.5h.01M257.1,393.6h.01M257.7,393.3h.01M258.4,393.1h.01M259.1,393.6h.01M259.8,393.5h.01M260.5,393.2h.01" stroke="#ff0000" stroke-width="6.0" stroke-linecap="round" fill="none"/>
</g>
<circle cx="100.1" cy="416" r="3.0" fill="#0000ff"/><rect x="97.2" y="446.3" width="6" height="6" fill="#ff0000"/>
<g stroke="#000" stroke-width="1.1" fill="none">
<line x1="88.27" y1="526.50" x2="265.05" y2="526.50" stroke-dasharray="1.1 3.07"/>
<line x1="88.27" y1="493.00" x2="265.05" y2="493.00" stroke-dasharray="1.1 3.07"/>
<line x1="88.27" y1="459.50" x2="265.05" y2="459.50" stroke-dasharray="1.1 3.07"/>
<line x1="88.27" y1="426.00" x2="265.05" y2="426.00" stroke-dasharray="1.1 3.07"/>
<line x1="88.27" y1="392.50" x2="265.05" y2="392.50" stroke-dasharray="1.1 3.07"/>
<line x1="145.40" y1="528.33" x2="145.40" y2="387.4" stroke-dasharray="1.1 3.07"/>
<line x1="218.40" y1="528.33" x2="218.40" y2="387.4" stroke-dasharray="1.1 3.07"/>
</g>
<g stroke="#000" fill="none">
<line x1="84.6" y1="386.79999999999995" x2="84.6" y2="532.7" stroke-width="1.25"/>
<line x1="84.0" y1="387.4" x2="265.75" y2="387.4" stroke-width="1.25"/>
<line x1="265.05" y1="386.79999999999995" x2="265.05" y2="532.7" stroke-width="1.5"/>
<line x1="84.0" y1="532.0" x2="265.75" y2="532.0" stroke-width="1.5"/>
<line x1="84.6" y1="526.50" x2="89.0" y2="526.50" stroke-width="1.3"/>
<line x1="84.6" y1="493.00" x2="89.0" y2="493.00" stroke-width="1.3"/>
<line x1="84.6" y1="459.50" x2="89.0" y2="459.50" stroke-width="1.3"/>
<line x1="84.6" y1="426.00" x2="89.0" y2="426.00" stroke-width="1.3"/>
<line x1="84.6" y1="392.50" x2="89.0" y2="392.50" stroke-width="1.3"/>
<line x1="145.40" y1="532.0" x2="145.40" y2="527.60" stroke-width="1.3"/>
<line x1="218.40" y1="532.0" x2="218.40" y2="527.60" stroke-width="1.3"/>
</g>
<g clip-path="url(#cc)">
<path d="M388.8,418.0h.01M402.7,431.4h.01M410.8,440.1h.01M416.5,444.8h.01M421.0,450.1h.01M424.6,453.9h.01M427.7,455.5h.01M430.4,458.1h.01M432.7,459.2h.01M434.8,462.8h.01M436.8,461.3h.01M438.5,463.8h.01M440.1,464.2h.01M441.6,465.9h.01M442.9,466.9h.01M444.2,467.1h.01M445.4,467.5h.01M446.6,469.1h.01M447.7,469.7h.01M448.7,469.7h.01M449.7,471.6h.01M450.6,472.7h.01M451.5,471.7h.01M452.3,473.1h.01M453.2,474.6h.01M453.9,474.2h.01M454.7,474.4h.01M455.4,475.4h.01M456.1,476.0h.01M456.8,475.2h.01M457.5,474.9h.01M458.1,476.2h.01M458.7,476.9h.01M459.3,476.4h.01M459.9,476.4h.01M460.4,477.6h.01M461.0,477.2h.01M461.5,477.1h.01M462.0,478.4h.01M462.5,479.2h.01M463.0,478.5h.01M463.5,478.9h.01M464.0,478.5h.01M464.4,480.7h.01M464.9,480.4h.01M465.3,480.8h.01M465.8,481.8h.01M466.2,480.5h.01M466.6,480.4h.01M467.0,481.7h.01M467.4,480.2h.01M467.8,480.9h.01M468.2,481.2h.01M468.5,481.6h.01M468.9,481.4h.01M469.3,483.4h.01M469.6,482.1h.01M470.0,482.3h.01M470.3,484.4h.01M470.6,482.9h.01M471.0,483.6h.01M471.3,482.9h.01M471.6,484.1h.01M471.9,484.0h.01M472.2,483.9h.01M472.5,485.0h.01M472.8,484.0h.01M473.4,484.4h.01M474.0,484.3h.01M474.6,485.6h.01M475.1,484.8h.01M475.6,487.4h.01M476.1,486.1h.01M476.6,487.6h.01M477.1,488.1h.01M477.6,486.3h.01M478.1,487.9h.01M478.5,487.7h.01M479.0,486.5h.01M479.4,488.9h.01M479.8,487.4h.01M480.2,489.5h.01M480.6,489.2h.01M481.0,490.0h.01M481.4,489.4h.01M481.8,490.1h.01M482.2,490.5h.01M482.6,490.5h.01M482.9,489.5h.01M483.3,489.1h.01M483.6,491.3h.01M484.0,490.1h.01M484.3,492.0h.01M484.7,491.1h.01M485.0,492.0h.01M485.3,491.8h.01M485.6,492.1h.01M485.9,492.7h.01M486.2,494.2h.01M486.5,492.1h.01M487.0,492.5h.01M487.4,492.4h.01M487.9,494.1h.01M488.3,494.2h.01M488.7,494.2h.01M489.1,494.0h.01M489.5,494.9h.01M489.9,494.0h.01M490.2,495.5h.01M490.6,494.6h.01M491.0,495.2h.01M491.3,496.1h.01M491.7,495.2h.01M492.0,495.7h.01M492.4,496.2h.01M492.7,496.3h.01M493.0,495.8h.01M493.4,496.8h.01M493.7,497.3h.01M494.0,496.0h.01M494.3,497.2h.01M494.6,498.6h.01M495.0,497.4h.01M495.4,497.1h.01M495.8,497.5h.01M496.1,499.1h.01M496.5,498.9h.01M496.9,498.6h.01M497.2,499.4h.01M497.6,498.4h.01M497.9,499.4h.01M498.3,499.7h.01M498.6,500.8h.01M498.9,499.0h.01M499.2,499.2h.01M499.5,499.5h.01M499.9,499.8h.01M500.2,499.2h.01M500.5,501.5h.01M500.8,501.1h.01M501.2,500.8h.01M501.6,501.0h.01M501.9,500.1h.01M502.3,501.3h.01M502.6,502.1h.01M502.9,502.8h.01M503.3,502.2h.01M503.6,502.2h.01M503.9,502.9h.01M504.2,502.4h.01M504.5,504.9h.01M504.8,501.2h.01M505.2,501.9h.01M505.5,503.7h.01M505.9,503.5h.01M506.2,503.0h.01M506.5,503.1h.01M506.9,503.4h.01M507.2,503.9h.01M507.5,504.1h.01M507.8,504.0h.01M508.1,506.2h.01M508.4,503.2h.01M508.8,505.3h.01M509.1,504.0h.01M509.5,504.8h.01M509.8,505.0h.01M510.1,505.8h.01M510.4,505.6h.01M510.8,504.6h.01M511.1,504.7h.01M511.4,506.6h.01M511.7,504.6h.01M512.0,506.1h.01M512.4,507.8h.01M512.7,506.7h.01M513.0,506.7h.01M513.3,505.9h.01M513.6,506.0h.01M513.9,505.9h.01M514.2,506.9h.01M514.6,508.1h.01M514.9,507.3h.01M515.2,506.9h.01M515.5,508.1h.01M515.9,507.7h.01M516.2,508.3h.01M516.5,505.9h.01M516.8,509.0h.01M517.1,506.8h.01M517.5,509.1h.01M517.8,507.8h.01M518.1,508.7h.01M518.4,508.6h.01M518.7,509.2h.01M519.0,510.2h.01M519.3,509.5h.01M519.7,509.2h.01M520.0,508.8h.01M520.3,508.1h.01M520.6,509.1h.01M520.9,510.1h.01M521.2,509.7h.01M521.5,509.4h.01M521.9,510.7h.01M522.2,511.0h.01M522.5,509.1h.01M522.8,509.5h.01M523.1,510.1h.01M523.4,510.2h.01M523.7,511.1h.01M524.0,510.9h.01M524.3,510.5h.01M524.7,509.6h.01M525.0,510.5h.01M525.3,510.3h.01M525.6,510.2h.01M525.9,510.0h.01M526.2,511.9h.01M526.5,512.1h.01M526.8,511.4h.01M527.1,512.9h.01M527.4,512.0h.01M527.7,511.8h.01M528.0,513.2h.01M528.4,512.4h.01M528.7,511.2h.01M529.0,512.8h.01M529.3,512.3h.01M529.6,512.6h.01M529.9,511.8h.01M530.2,512.7h.01M530.5,513.5h.01M530.8,511.9h.01M531.1,512.0h.01M531.4,511.7h.01M531.8,513.2h.01M532.1,513.2h.01M532.4,513.8h.01M532.7,513.5h.01M533.0,512.0h.01M533.3,514.7h.01M533.6,513.9h.01M533.9,512.5h.01M534.2,513.5h.01M534.5,514.7h.01M534.8,514.9h.01M535.1,513.9h.01M535.4,515.0h.01M535.7,513.6h.01M536.0,513.9h.01M536.3,514.6h.01M536.7,514.5h.01M537.0,514.8h.01M537.3,513.2h.01M537.6,513.7h.01M537.9,515.6h.01M538.2,515.6h.01M538.5,514.3h.01M538.8,516.0h.01M539.1,515.1h.01M539.4,515.7h.01M539.7,515.3h.01M540.0,516.6h.01M540.3,515.0h.01M540.6,516.2h.01M540.9,515.0h.01M541.2,515.4h.01M541.5,514.4h.01M541.8,515.7h.01M542.2,515.6h.01M542.5,515.7h.01M542.8,516.9h.01M543.1,515.7h.01M543.4,516.2h.01M543.7,516.3h.01M544.0,517.3h.01M544.3,516.1h.01M544.6,515.7h.01M544.9,516.7h.01M545.2,516.9h.01M545.5,518.9h.01M545.8,517.5h.01M546.1,517.8h.01M546.4,515.9h.01M546.7,517.3h.01M547.0,517.3h.01M547.3,518.7h.01M547.6,518.1h.01M547.9,517.4h.01M548.2,518.5h.01M548.5,517.1h.01M548.8,518.8h.01M549.2,518.0h.01M549.5,517.9h.01M549.8,517.9h.01M550.1,518.5h.01M550.4,520.5h.01M550.7,517.5h.01M551.0,518.4h.01M551.3,518.7h.01M551.6,519.2h.01M551.9,517.9h.01M552.2,518.1h.01M552.5,518.8h.01M552.8,519.8h.01M553.1,519.4h.01M553.4,519.4h.01M553.7,519.6h.01M554.0,519.6h.01M554.3,519.6h.01M554.6,518.6h.01M554.9,519.1h.01M555.2,519.6h.01M555.5,519.8h.01M555.8,521.0h.01M556.1,519.0h.01M556.4,519.3h.01M556.7,520.0h.01M557.0,520.4h.01M557.3,519.5h.01M557.6,519.3h.01M557.9,521.6h.01M558.2,519.7h.01M558.5,521.4h.01M558.8,522.2h.01M559.1,520.3h.01M559.4,520.8h.01M559.7,519.9h.01" stroke="#ff0000" stroke-width="5.3" stroke-linecap="square" fill="none"/>
<path d="M434.8,474.8h.01M448.7,481.8h.01M456.8,486.8h.01M462.5,487.4h.01M467.0,488.8h.01M470.6,492.8h.01M473.7,493.4h.01M476.4,491.4h.01M478.7,495.4h.01M480.8,492.1h.01M482.8,498.8h.01M484.5,495.4h.01M486.1,497.4h.01M487.6,496.2h.01M488.9,495.9h.01M490.2,498.2h.01M491.4,496.9h.01M492.6,498.1h.01M493.7,495.3h.01M494.7,496.8h.01M495.7,495.9h.01M496.6,495.2h.01M497.5,497.9h.01M498.3,496.2h.01M499.2,498.5h.01M499.9,498.4h.01M500.7,500.6h.01M501.4,499.5h.01M502.1,497.9h.01M502.8,499.3h.01M503.5,500.6h.01M504.1,500.2h.01M504.7,501.3h.01M505.3,501.4h.01M505.9,502.5h.01M506.4,499.5h.01M507.0,499.6h.01M507.5,501.3h.01M508.0,502.9h.01M508.5,501.7h.01M509.0,499.0h.01M509.5,503.2h.01M510.0,502.3h.01M510.4,502.4h.01M510.9,500.9h.01M511.3,503.6h.01M511.8,501.8h.01M512.2,503.2h.01M512.6,502.8h.01M513.0,503.9h.01M513.4,501.9h.01M513.8,503.2h.01M514.2,503.4h.01M514.5,501.4h.01M514.9,502.4h.01M515.3,500.0h.01M515.6,502.5h.01M516.0,503.0h.01M516.3,503.0h.01M516.6,499.7h.01M517.0,501.7h.01M517.3,503.7h.01M517.6,503.0h.01M517.9,504.2h.01M518.2,502.7h.01M518.5,504.3h.01M518.8,504.4h.01M519.1,503.2h.01M519.4,502.1h.01M519.7,502.8h.01M520.0,503.0h.01M520.3,504.0h.01M520.6,507.3h.01M520.8,504.4h.01M521.1,504.5h.01M521.4,503.5h.01M521.6,502.0h.01M521.9,503.3h.01M522.1,506.8h.01M522.4,504.5h.01M522.6,504.9h.01M522.9,503.6h.01M523.1,504.7h.01M523.4,507.3h.01M523.6,506.0h.01M523.8,505.2h.01M524.1,507.7h.01M524.3,505.1h.01M524.5,505.3h.01M524.7,503.5h.01M525.0,505.2h.01M525.2,506.0h.01M525.4,505.3h.01M525.6,505.2h.01M525.8,503.9h.01M526.0,506.6h.01M526.2,508.5h.01M526.4,501.5h.01M526.6,504.3h.01M526.8,505.4h.01M527.0,502.0h.01M527.2,507.2h.01M527.4,506.7h.01M527.6,506.2h.01M527.8,505.0h.01M528.0,506.4h.01M528.2,504.6h.01M528.4,506.3h.01M528.6,503.9h.01M528.8,505.2h.01M528.9,508.3h.01M529.1,506.0h.01M529.3,507.6h.01M529.5,506.2h.01M529.6,506.0h.01M529.8,502.8h.01M530.0,506.5h.01M530.2,508.5h.01M530.3,506.0h.01M530.5,508.0h.01M530.7,503.5h.01M530.8,505.2h.01M531.0,504.0h.01M531.1,507.0h.01M531.3,508.0h.01M531.5,506.0h.01M531.6,508.5h.01M531.8,507.9h.01M531.9,507.7h.01M532.1,506.8h.01M532.2,508.9h.01M532.4,509.8h.01M532.5,504.5h.01M532.7,507.5h.01M532.8,507.0h.01M533.0,505.8h.01M533.1,506.1h.01M533.3,507.8h.01M533.4,507.5h.01M533.6,504.4h.01M533.7,504.9h.01M533.9,505.8h.01M534.0,504.4h.01M534.1,509.9h.01M534.3,506.8h.01M534.4,507.4h.01M534.5,510.0h.01M534.7,506.5h.01M534.8,506.1h.01M534.9,506.7h.01M535.1,510.0h.01M535.2,507.5h.01M535.3,506.8h.01M535.5,507.6h.01M535.6,506.8h.01M535.7,506.5h.01M535.9,505.0h.01M536.0,506.9h.01M536.1,503.2h.01M536.2,507.0h.01M536.4,506.9h.01M536.5,506.2h.01M536.6,507.5h.01M536.7,508.0h.01M536.9,505.5h.01M537.0,510.9h.01M537.1,510.3h.01M537.2,504.2h.01M537.3,506.4h.01M537.4,506.7h.01M537.6,507.1h.01M537.7,507.2h.01M537.8,509.2h.01M537.9,508.1h.01M538.0,509.3h.01M538.1,505.8h.01M538.3,506.7h.01M538.4,507.4h.01M538.5,507.1h.01M538.6,508.0h.01M538.7,509.7h.01M538.8,505.1h.01M538.9,506.8h.01M539.0,508.2h.01M539.1,506.9h.01M539.2,505.8h.01M539.4,506.0h.01M539.5,506.9h.01M539.6,506.6h.01M539.7,508.4h.01M539.8,505.8h.01M539.9,506.5h.01M540.0,506.5h.01M540.1,510.2h.01M540.2,507.0h.01M540.3,507.0h.01M540.4,506.8h.01M540.5,512.5h.01M540.6,511.3h.01M540.7,507.7h.01M540.8,509.8h.01M540.9,507.6h.01M541.0,508.4h.01M541.1,506.8h.01M541.2,509.3h.01M541.3,510.1h.01M541.4,507.5h.01M541.5,508.8h.01M541.6,510.4h.01M541.7,511.8h.01M541.8,503.1h.01M541.9,509.1h.01M542.0,508.9h.01M542.0,511.9h.01M542.1,510.3h.01M542.2,508.8h.01M542.3,508.0h.01M542.4,507.2h.01M542.5,509.9h.01M542.6,507.8h.01M542.7,506.7h.01M542.8,509.5h.01M542.9,508.8h.01M543.0,511.8h.01M543.0,510.1h.01M543.1,511.1h.01M543.2,507.6h.01M543.3,509.1h.01M543.4,506.0h.01M543.5,508.5h.01M543.6,507.4h.01M543.7,507.9h.01M543.7,508.5h.01M543.8,510.8h.01M543.9,506.0h.01M544.0,509.1h.01M544.1,512.2h.01M544.2,510.0h.01M544.3,510.9h.01M544.3,506.9h.01M544.4,507.1h.01M544.5,506.3h.01M544.6,505.1h.01M544.7,510.2h.01M544.7,512.4h.01M544.8,510.7h.01M544.9,508.3h.01M545.0,514.0h.01M545.1,510.2h.01M545.2,507.6h.01M545.2,510.7h.01M545.3,509.4h.01M545.4,510.8h.01M545.5,506.0h.01M545.5,505.6h.01M545.6,511.1h.01M545.7,510.8h.01M545.8,509.0h.01M545.9,508.0h.01M545.9,508.5h.01M546.0,508.0h.01M546.1,507.4h.01M546.2,507.0h.01M546.2,505.7h.01M546.3,508.9h.01M546.4,510.1h.01M546.5,509.3h.01M546.5,505.1h.01M546.6,507.6h.01M546.7,507.9h.01M546.8,506.7h.01M546.8,506.9h.01M546.9,504.8h.01M547.0,510.8h.01M547.1,508.9h.01M547.1,507.9h.01M547.2,507.8h.01M547.3,510.0h.01M547.3,512.4h.01M547.4,509.9h.01M547.5,510.7h.01M547.6,509.6h.01M547.6,507.3h.01M547.7,508.1h.01M547.8,511.6h.01M547.8,510.9h.01M547.9,509.1h.01M548.0,507.3h.01M548.0,509.6h.01M548.1,509.1h.01M548.2,512.4h.01M548.3,510.5h.01M548.3,511.1h.01M548.4,509.2h.01M548.5,510.2h.01M548.5,511.3h.01M548.6,511.8h.01M548.7,509.3h.01M548.7,511.0h.01M548.8,507.6h.01M548.9,509.5h.01M548.9,510.3h.01M549.0,508.0h.01M549.1,512.1h.01M549.1,508.1h.01M549.2,511.3h.01M549.3,508.5h.01M549.3,511.2h.01M549.4,511.7h.01M549.5,513.5h.01M549.5,509.9h.01M549.6,509.0h.01M549.6,512.7h.01M549.7,506.5h.01M549.8,510.0h.01M549.8,512.2h.01M549.9,506.2h.01M550.0,510.8h.01M550.0,507.2h.01M550.1,515.6h.01M550.1,505.9h.01M550.2,509.7h.01M550.3,510.1h.01M550.3,509.5h.01M550.4,512.4h.01M550.5,508.3h.01M550.5,509.3h.01M550.6,509.5h.01M550.6,511.3h.01M550.7,512.5h.01M550.8,509.5h.01M550.8,508.6h.01M550.9,510.0h.01M550.9,510.7h.01M551.0,511.3h.01M551.1,508.9h.01M551.1,507.4h.01M551.2,510.6h.01M551.2,512.0h.01M551.3,505.4h.01M551.4,513.4h.01M551.4,509.8h.01M551.5,510.6h.01M551.5,507.8h.01M551.6,510.7h.01M551.6,513.7h.01M551.7,512.7h.01M551.8,510.2h.01M551.8,510.5h.01M551.9,511.8h.01M551.9,511.6h.01M552.0,513.6h.01M552.0,513.5h.01M552.1,511.8h.01M552.2,511.9h.01M552.2,510.8h.01M552.3,512.9h.01M552.3,507.4h.01M552.4,514.1h.01M552.4,508.8h.01M552.5,509.4h.01M552.5,507.4h.01M552.6,507.8h.01M552.7,513.2h.01M552.7,509.9h.01M552.8,509.0h.01M552.8,508.7h.01M552.9,509.6h.01M552.9,511.8h.01M553.0,508.0h.01M553.0,510.9h.01M553.1,511.6h.01M553.1,510.3h.01M553.2,511.6h.01M553.3,512.0h.01M553.3,510.4h.01M553.4,505.3h.01M553.4,510.0h.01M553.5,510.5h.01M553.5,511.6h.01M553.6,510.0h.01M553.6,513.1h.01M553.7,509.7h.01M553.7,510.2h.01M553.8,510.6h.01M553.8,509.8h.01M553.9,511.2h.01M553.9,509.4h.01M554.0,509.7h.01M554.0,509.6h.01M554.1,510.8h.01M554.1,509.0h.01M554.2,511.2h.01M554.2,508.2h.01M554.3,511.1h.01M554.3,508.2h.01M554.4,510.3h.01M554.4,510.9h.01M554.5,512.9h.01M554.5,509.6h.01M554.6,510.1h.01M554.6,510.8h.01M554.7,510.1h.01M554.7,510.6h.01M554.8,512.8h.01M554.8,513.4h.01M554.9,509.6h.01M554.9,510.6h.01M555.0,507.8h.01M555.0,506.8h.01M555.1,509.2h.01M555.1,509.6h.01M555.2,509.8h.01M555.2,510.8h.01M555.3,512.3h.01M555.3,516.5h.01M555.4,509.4h.01M555.4,509.8h.01M555.5,511.0h.01M555.5,510.8h.01M555.6,509.0h.01M555.6,509.1h.01M555.7,510.7h.01M555.7,511.6h.01M555.8,509.8h.01M555.8,509.4h.01M555.8,506.5h.01M555.9,513.0h.01M555.9,510.1h.01M556.0,513.0h.01M556.0,512.1h.01M556.1,506.2h.01M556.1,512.0h.01M556.2,511.4h.01M556.2,512.4h.01M556.3,509.4h.01M556.3,512.1h.01M556.4,514.8h.01M556.4,510.9h.01M556.4,509.5h.01M556.5,511.3h.01M556.5,510.9h.01M556.6,512.8h.01M556.6,513.3h.01M556.7,511.3h.01M556.7,513.7h.01M556.8,512.3h.01M556.8,513.4h.01M556.9,511.8h.01M556.9,509.6h.01M556.9,511.4h.01M557.0,508.9h.01M557.0,510.6h.01M557.1,511.7h.01M557.1,513.4h.01M557.2,511.2h.01M557.2,513.9h.01M557.2,509.8h.01M557.3,514.3h.01M557.3,514.5h.01M557.4,513.3h.01M557.4,515.1h.01M557.5,511.3h.01M557.5,513.2h.01M557.6,512.5h.01M557.6,510.2h.01M557.6,516.3h.01M557.7,512.1h.01M557.7,510.8h.01M557.8,509.3h.01M557.8,511.3h.01M557.8,513.0h.01M557.9,509.6h.01M557.9,509.6h.01M558.0,506.8h.01M558.0,506.9h.01M558.1,512.1h.01M558.1,508.6h.01M558.1,511.2h.01M558.2,513.9h.01M558.2,510.1h.01M558.3,508.8h.01M558.3,516.8h.01M558.4,508.8h.01M558.4,513.5h.01M558.4,508.2h.01M558.5,511.2h.01M558.5,511.4h.01M558.6,508.7h.01M558.6,512.4h.01M558.6,507.1h.01M558.7,513.8h.01M558.7,513.1h.01M558.8,514.1h.01M558.8,510.6h.01M558.8,511.9h.01M558.9,510.0h.01M558.9,509.4h.01M559.0,510.1h.01M559.0,509.4h.01M559.0,509.4h.01M559.1,512.0h.01M559.1,513.5h.01M559.2,514.0h.01M559.2,510.2h.01M559.2,513.1h.01M559.3,514.0h.01M559.3,513.8h.01M559.4,512.4h.01M559.4,511.4h.01M559.4,512.5h.01M559.5,514.2h.01M559.5,510.8h.01M559.6,516.9h.01M559.6,512.7h.01M559.6,509.7h.01M559.7,511.5h.01M559.7,509.4h.01M559.7,511.8h.01M559.8,510.8h.01M559.8,512.0h.01M559.9,513.1h.01M559.9,511.3h.01M559.9,510.0h.01M560.0,516.5h.01M560.0,514.0h.01M560.1,516.8h.01M560.1,514.3h.01M560.1,515.1h.01M560.2,513.3h.01M560.2,512.9h.01M560.2,510.1h.01M560.3,509.5h.01M560.3,514.1h.01M560.4,513.4h.01M560.4,510.9h.01M560.4,513.7h.01M560.5,513.2h.01M560.5,516.5h.01M560.5,510.7h.01M560.6,511.8h.01M560.6,514.5h.01M560.6,515.3h.01M560.7,514.7h.01M560.7,511.4h.01M560.8,513.5h.01M560.8,515.1h.01M560.8,513.1h.01M560.9,510.5h.01M560.9,509.6h.01M560.9,509.4h.01M561.0,512.1h.01M561.0,511.8h.01M561.0,511.7h.01M561.1,510.9h.01M561.1,511.1h.01M561.2,514.5h.01M561.2,514.0h.01M561.2,513.3h.01M561.3,510.8h.01M561.3,513.6h.01M561.3,514.1h.01M561.4,510.1h.01M561.4,509.2h.01M561.4,514.5h.01M561.5,512.8h.01M561.5,509.9h.01M561.5,513.4h.01M561.6,510.4h.01M561.6,515.6h.01M561.7,513.0h.01M561.7,511.0h.01M561.7,509.1h.01M561.8,510.4h.01M561.8,516.1h.01M561.8,516.0h.01M561.9,514.5h.01M561.9,510.7h.01M561.9,510.9h.01M562.0,510.1h.01M562.0,511.0h.01M562.0,513.8h.01M562.1,513.4h.01M562.1,514.6h.01M562.1,510.7h.01M562.2,515.4h.01M562.2,512.5h.01M562.2,512.0h.01M562.3,509.8h.01M562.3,514.3h.01M562.3,511.7h.01M562.4,514.9h.01M562.4,510.3h.01M562.4,513.5h.01M562.5,513.3h.01M562.5,514.8h.01M562.5,514.0h.01M562.6,514.1h.01M562.6,514.1h.01M562.6,510.1h.01M562.7,514.9h.01M562.7,512.1h.01M562.7,510.8h.01M562.8,515.3h.01M562.8,517.6h.01M562.8,511.7h.01M562.9,516.5h.01M562.9,514.5h.01M562.9,513.0h.01M563.0,512.1h.01M563.0,513.4h.01M563.0,514.3h.01M563.1,510.5h.01M563.1,512.3h.01M563.1,508.4h.01M563.2,514.8h.01M563.2,513.0h.01M563.2,512.9h.01M563.3,511.6h.01M563.3,512.3h.01M563.3,512.7h.01M563.4,508.4h.01M563.4,513.2h.01M563.4,511.8h.01M563.5,512.4h.01M563.5,514.2h.01M563.5,511.2h.01M563.6,517.1h.01M563.6,510.3h.01M563.6,516.4h.01M563.6,513.6h.01M563.7,512.6h.01M563.7,514.0h.01M563.7,514.1h.01M563.8,510.2h.01M563.8,507.5h.01M563.8,510.5h.01M563.9,512.5h.01M563.9,514.3h.01M563.9,514.7h.01M564.0,510.2h.01M564.0,510.9h.01M564.0,509.9h.01M564.1,510.7h.01M564.1,509.9h.01M564.1,514.3h.01M564.1,514.7h.01M564.2,515.3h.01M564.2,513.0h.01M564.2,513.4h.01M564.3,512.7h.01M564.3,515.7h.01M564.3,512.6h.01M564.4,511.2h.01M564.4,512.8h.01M564.4,519.1h.01M564.5,513.1h.01M564.5,513.8h.01M564.5,510.9h.01M564.5,513.4h.01M564.6,511.6h.01M564.6,513.9h.01M564.6,512.3h.01M564.7,510.8h.01M564.7,513.7h.01M564.7,512.4h.01M564.8,512.7h.01M564.8,511.7h.01M564.8,513.4h.01M564.8,512.0h.01M564.9,517.3h.01M564.9,513.6h.01M564.9,511.2h.01M565.0,511.6h.01M565.0,515.3h.01M565.0,515.0h.01M565.1,512.2h.01M565.1,512.3h.01M565.1,512.1h.01M565.1,513.0h.01M565.2,512.9h.01M565.2,510.8h.01M565.2,515.3h.01M565.3,516.3h.01M565.3,510.9h.01M565.3,514.9h.01M565.3,511.6h.01M565.4,514.7h.01M565.4,515.7h.01M565.4,509.7h.01M565.5,513.4h.01M565.5,516.4h.01M565.5,513.7h.01M565.5,513.6h.01M565.6,513.7h.01M565.6,512.9h.01M565.6,515.9h.01M565.7,513.9h.01M565.7,512.3h.01M565.7,511.9h.01M565.8,513.1h.01M565.8,515.1h.01M565.8,517.8h.01M565.8,510.0h.01M565.9,515.9h.01M565.9,514.4h.01M565.9,513.3h.01M565.9,512.3h.01M566.0,513.4h.01M566.0,515.2h.01M566.0,513.4h.01M566.1,508.6h.01M566.1,507.6h.01M566.1,513.8h.01M566.1,511.9h.01M566.2,517.3h.01M566.2,512.9h.01M566.2,511.7h.01M566.3,514.0h.01M566.3,509.2h.01M566.3,511.3h.01M566.3,511.9h.01M566.4,519.3h.01M566.4,514.7h.01M566.4,511.7h.01M566.5,514.4h.01M566.5,517.3h.01M566.5,514.6h.01M566.5,509.8h.01M566.6,511.8h.01M566.6,511.3h.01M566.6,512.9h.01M566.6,509.6h.01M566.7,519.7h.01M566.7,516.0h.01M566.7,508.9h.01M566.8,510.9h.01M566.8,512.8h.01M566.8,514.1h.01M566.8,517.4h.01M566.9,514.3h.01M566.9,513.6h.01M566.9,515.4h.01M566.9,510.2h.01M567.0,510.9h.01M567.0,513.9h.01M567.0,511.2h.01M567.0,513.4h.01M567.1,512.7h.01M567.1,514.4h.01M567.1,507.6h.01M567.2,516.7h.01M567.2,513.6h.01M567.2,510.9h.01M567.2,510.9h.01M567.3,517.0h.01M567.3,515.5h.01M567.3,513.5h.01M567.3,515.1h.01M567.4,514.8h.01M567.4,513.9h.01M567.4,513.6h.01M567.4,510.8h.01M567.5,517.2h.01M567.5,510.9h.01M567.5,513.8h.01M567.5,512.0h.01M567.6,514.1h.01M567.6,507.9h.01M567.6,517.4h.01M567.7,510.6h.01M567.7,514.3h.01M567.7,513.8h.01M567.7,510.0h.01M567.8,513.7h.01M567.8,511.2h.01M567.8,510.0h.01M567.8,514.6h.01M567.9,508.6h.01M567.9,510.4h.01M567.9,513.8h.01M567.9,512.7h.01M568.0,514.9h.01M568.0,512.6h.01M568.0,511.3h.01M568.0,511.0h.01M568.1,512.7h.01M568.1,514.4h.01M568.1,514.7h.01M568.1,515.4h.01M568.2,513.9h.01M568.2,511.9h.01M568.2,514.6h.01M568.2,514.8h.01M568.3,515.7h.01M568.3,511.9h.01M568.3,513.8h.01M568.3,517.0h.01M568.4,510.7h.01" stroke="#0000ff" stroke-width="6.0" stroke-linecap="round" fill="none"/>
</g>
<circle cx="478.9" cy="409.25" r="3.0" fill="#0000ff"/><rect x="476.1" y="439.6" width="6" height="6" fill="#ff0000"/>
<g stroke="#000" stroke-width="1.1" fill="none">
<line x1="371.67" y1="526.50" x2="565.2" y2="526.50" stroke-dasharray="1.1 3.07"/>
<line x1="371.67" y1="493.00" x2="565.2" y2="493.00" stroke-dasharray="1.1 3.07"/>
<line x1="371.67" y1="459.50" x2="565.2" y2="459.50" stroke-dasharray="1.1 3.07"/>
<line x1="371.67" y1="426.00" x2="565.2" y2="426.00" stroke-dasharray="1.1 3.07"/>
<line x1="371.67" y1="392.50" x2="565.2" y2="392.50" stroke-dasharray="1.1 3.07"/>
<line x1="375.00" y1="528.33" x2="375.00" y2="387.4" stroke-dasharray="1.1 3.07"/>
<line x1="421.00" y1="528.33" x2="421.00" y2="387.4" stroke-dasharray="1.1 3.07"/>
<line x1="467.00" y1="528.33" x2="467.00" y2="387.4" stroke-dasharray="1.1 3.07"/>
<line x1="513.00" y1="528.33" x2="513.00" y2="387.4" stroke-dasharray="1.1 3.07"/>
<line x1="559.00" y1="528.33" x2="559.00" y2="387.4" stroke-dasharray="1.1 3.07"/>
</g>
<g stroke="#000" fill="none">
<line x1="368.0" y1="386.79999999999995" x2="368.0" y2="532.7" stroke-width="1.5"/>
<line x1="367.3" y1="387.4" x2="565.9000000000001" y2="387.4" stroke-width="1.25"/>
<line x1="565.2" y1="386.79999999999995" x2="565.2" y2="532.7" stroke-width="1.5"/>
<line x1="367.3" y1="532.0" x2="565.9000000000001" y2="532.0" stroke-width="1.5"/>
<line x1="368.0" y1="526.50" x2="372.6" y2="526.50" stroke-width="1.3"/>
<line x1="368.0" y1="493.00" x2="372.6" y2="493.00" stroke-width="1.3"/>
<line x1="368.0" y1="459.50" x2="372.6" y2="459.50" stroke-width="1.3"/>
<line x1="368.0" y1="426.00" x2="372.6" y2="426.00" stroke-width="1.3"/>
<line x1="368.0" y1="392.50" x2="372.6" y2="392.50" stroke-width="1.3"/>
<line x1="375.00" y1="532.0" x2="375.00" y2="527.60" stroke-width="1.3"/>
<line x1="421.00" y1="532.0" x2="421.00" y2="527.60" stroke-width="1.3"/>
<line x1="467.00" y1="532.0" x2="467.00" y2="527.60" stroke-width="1.3"/>
<line x1="513.00" y1="532.0" x2="513.00" y2="527.60" stroke-width="1.3"/>
<line x1="559.00" y1="532.0" x2="559.00" y2="527.60" stroke-width="1.3"/>
</g>
<g transform="translate(51.05,95.41) scale(0.9413,1)" font-family="'Liberation Sans'" font-size="19.30" font-weight="normal" font-style="normal" fill="#000" stroke="#000" stroke-width="0.143" stroke-linejoin="round" ><path d="M515 0V1237L197 1010V1180L530 1409H696V0Z" transform="translate(0.00,0) scale(0.00942,-0.00942)" fill="#000" stroke="#000" stroke-width="15.2" stroke-linejoin="round" /><text x="10.73" y="0">0</text></g>
<text transform="translate(70.80,85.94) scale(0.9300,1)" font-family="'Liberation Sans'" font-size="11.94" font-weight="normal" font-style="normal" fill="#000" stroke="#000" stroke-width="0.090" stroke-linejoin="round" text-anchor="start">−2</text>
<g transform="translate(51.05,154.34) scale(0.9413,1)" font-family="'Liberation Sans'" font-size="19.30" font-weight="normal" font-style="normal" fill="#000" stroke="#000" stroke-width="0.143" stroke-linejoin="round" ><path d="M515 0V1237L197 1010V1180L530 1409H696V0Z" transform="translate(0.00,0) scale(0.00942,-0.00942)" fill="#000" stroke="#000" stroke-width="15.2" stroke-linejoin="round" /><text x="10.73" y="0">0</text></g>
<text transform="translate(70.80,144.87) scale(0.9300,1)" font-family="'Liberation Sans'" font-size="11.94" font-weight="normal" font-style="normal" fill="#000" stroke="#000" stroke-width="0.090" stroke-linejoin="round" text-anchor="start">−3</text>
<g transform="translate(51.05,213.27) scale(0.9413,1)" font-family="'Liberation Sans'" font-size="19.30" font-weight="normal" font-style="normal" fill="#000" stroke="#000" stroke-width="0.143" stroke-linejoin="round" ><path d="M515 0V1237L197 1010V1180L530 1409H696V0Z" transform="translate(0.00,0) scale(0.00942,-0.00942)" fill="#000" stroke="#000" stroke-width="15.2" stroke-linejoin="round" /><text x="10.73" y="0">0</text></g>
<text transform="translate(70.80,203.80) scale(0.9300,1)" font-family="'Liberation Sans'" font-size="11.94" font-weight="normal" font-style="normal" fill="#000" stroke="#000" stroke-width="0.090" stroke-linejoin="round" text-anchor="start">−4</text>
<g transform="translate(51.05,272.20) scale(0.9413,1)" font-family="'Liberation Sans'" font-size="19.30" font-weight="normal" font-style="normal" fill="#000" stroke="#000" stroke-width="0.143" stroke-linejoin="round" ><path d="M515 0V1237L197 1010V1180L530 1409H696V0Z" transform="translate(0.00,0) scale(0.00942,-0.00942)" fill="#000" stroke="#000" stroke-width="15.2" stroke-linejoin="round" /><text x="10.73" y="0">0</text></g>
<text transform="translate(70.80,262.73) scale(0.9300,1)" font-family="'Liberation Sans'" font-size="11.94" font-weight="normal" font-style="normal" fill="#000" stroke="#000" stroke-width="0.090" stroke-linejoin="round" text-anchor="start">−5</text>
<g transform="translate(515.45,81.11) scale(0.9413,1)" font-family="'Liberation Sans'" font-size="19.30" font-weight="normal" font-style="normal" fill="#000" stroke="#000" stroke-width="0.143" stroke-linejoin="round" ><path d="M515 0V1237L197 1010V1180L530 1409H696V0Z" transform="translate(0.00,0) scale(0.00942,-0.00942)" fill="#000" stroke="#000" stroke-width="15.2" stroke-linejoin="round" /><text x="10.73" y="0">0</text></g>
<g transform="translate(535.50,71.64) scale(0.9300,1)" font-family="'Liberation Sans'" font-size="11.94" font-weight="normal" font-style="normal" fill="#000" stroke="#000" stroke-width="0.090" stroke-linejoin="round" ><text x="0.00" y="0">−</text><path d="M515 0V1237L197 1010V1180L530 1409H696V0Z" transform="translate(6.97,0) scale(0.00583,-0.00583)" fill="#000" stroke="#000" stroke-width="15.4" stroke-linejoin="round" /><text x="13.62" y="0">4</text></g>
<g transform="translate(515.45,140.04) scale(0.9413,1)" font-family="'Liberation Sans'" font-size="19.30" font-weight="normal" font-style="normal" fill="#000" stroke="#000" stroke-width="0.143" stroke-linejoin="round" ><path d="M515 0V1237L197 1010V1180L530 1409H696V0Z" transform="translate(0.00,0) scale(0.00942,-0.00942)" fill="#000" stroke="#000" stroke-width="15.2" stroke-linejoin="round" /><text x="10.73" y="0">0</text></g>
<g transform="translate(535.50,130.57) scale(0.9300,1)" font-family="'Liberation Sans'" font-size="11.94" font-weight="normal" font-style="normal" fill="#000" stroke="#000" stroke-width="0.090" stroke-linejoin="round" ><text x="0.00" y="0">−</text><path d="M515 0V1237L197 1010V1180L530 1409H696V0Z" transform="translate(6.97,0) scale(0.00583,-0.00583)" fill="#000" stroke="#000" stroke-width="15.4" stroke-linejoin="round" /><text x="13.62" y="0">5</text></g>
<g transform="translate(515.45,198.97) scale(0.9413,1)" font-family="'Liberation Sans'" font-size="19.30" font-weight="normal" font-style="normal" fill="#000" stroke="#000" stroke-width="0.143" stroke-linejoin="round" ><path d="M515 0V1237L197 1010V1180L530 1409H696V0Z" transform="translate(0.00,0) scale(0.00942,-0.00942)" fill="#000" stroke="#000" stroke-width="15.2" stroke-linejoin="round" /><text x="10.73" y="0">0</text></g>
<g transform="translate(535.50,189.50) scale(0.9300,1)" font-family="'Liberation Sans'" font-size="11.94" font-weight="normal" font-style="normal" fill="#000" stroke="#000" stroke-width="0.090" stroke-linejoin="round" ><text x="0.00" y="0">−</text><path d="M515 0V1237L197 1010V1180L530 1409H696V0Z" transform="translate(6.97,0) scale(0.00583,-0.00583)" fill="#000" stroke="#000" stroke-width="15.4" stroke-linejoin="round" /><text x="13.62" y="0">6</text></g>
<g transform="translate(515.45,257.90) scale(0.9413,1)" font-family="'Liberation Sans'" font-size="19.30" font-weight="normal" font-style="normal" fill="#000" stroke="#000" stroke-width="0.143" stroke-linejoin="round" ><path d="M515 0V1237L197 1010V1180L530 1409H696V0Z" transform="translate(0.00,0) scale(0.00942,-0.00942)" fill="#000" stroke="#000" stroke-width="15.2" stroke-linejoin="round" /><text x="10.73" y="0">0</text></g>
<g transform="translate(535.50,248.43) scale(0.9300,1)" font-family="'Liberation Sans'" font-size="11.94" font-weight="normal" font-style="normal" fill="#000" stroke="#000" stroke-width="0.090" stroke-linejoin="round" ><text x="0.00" y="0">−</text><path d="M515 0V1237L197 1010V1180L530 1409H696V0Z" transform="translate(6.97,0) scale(0.00583,-0.00583)" fill="#000" stroke="#000" stroke-width="15.4" stroke-linejoin="round" /><text x="13.62" y="0">7</text></g>
<g transform="translate(103.35,314.81) scale(0.9658,1)" font-family="'Liberation Sans'" font-size="19.37" font-weight="normal" font-style="normal" fill="#000" stroke="#000" stroke-width="0.140" stroke-linejoin="round" ><text x="0.00" y="0">0.</text><path d="M515 0V1237L197 1010V1180L530 1409H696V0Z" transform="translate(16.15,0) scale(0.00946,-0.00946)" fill="#000" stroke="#000" stroke-width="14.8" stroke-linejoin="round" /></g>
<g transform="translate(199.90,314.81) scale(0.9300,1)" font-family="'Liberation Sans'" font-size="19.37" font-weight="normal" font-style="normal" fill="#000" stroke="#000" stroke-width="0.146" stroke-linejoin="round" ><path d="M515 0V1237L197 1010V1180L530 1409H696V0Z" transform="translate(-5.39,0) scale(0.00946,-0.00946)" fill="#000" stroke="#000" stroke-width="15.4" stroke-linejoin="round" /></g>
<g transform="translate(283.50,314.81) scale(0.9300,1)" font-family="'Liberation Sans'" font-size="19.37" font-weight="normal" font-style="normal" fill="#000" stroke="#000" stroke-width="0.146" stroke-linejoin="round" ><path d="M515 0V1237L197 1010V1180L530 1409H696V0Z" transform="translate(-10.77,0) scale(0.00946,-0.00946)" fill="#000" stroke="#000" stroke-width="15.4" stroke-linejoin="round" /><text x="0.00" y="0">0</text></g>
<g transform="translate(367.10,314.81) scale(0.9300,1)" font-family="'Liberation Sans'" font-size="19.37" font-weight="normal" font-style="normal" fill="#000" stroke="#000" stroke-width="0.146" stroke-linejoin="round" ><path d="M515 0V1237L197 1010V1180L530 1409H696V0Z" transform="translate(-16.16,0) scale(0.00946,-0.00946)" fill="#000" stroke="#000" stroke-width="15.4" stroke-linejoin="round" /><text x="-5.39" y="0">00</text></g>
<g transform="translate(450.70,314.81) scale(0.9300,1)" font-family="'Liberation Sans'" font-size="19.37" font-weight="normal" font-style="normal" fill="#000" stroke="#000" stroke-width="0.146" stroke-linejoin="round" ><path d="M515 0V1237L197 1010V1180L530 1409H696V0Z" transform="translate(-21.54,0) scale(0.00946,-0.00946)" fill="#000" stroke="#000" stroke-width="15.4" stroke-linejoin="round" /><text x="-10.77" y="0">000</text></g>
<text transform="translate(225.05,335.70) scale(0.9788,1)" font-family="'Liberation Sans'" font-size="21.15" font-weight="bold" font-style="normal" fill="#000" text-anchor="start">Frequency (Hz)</text>
<text transform="translate(122.76,249.56) scale(0.9795,1)" font-family="'Liberation Sans'" font-size="14.08" font-weight="bold" font-style="normal" fill="#000" text-anchor="start">Standard quantum limit</text>
<text transform="translate(431.64,131.35) scale(0.9520,1)" font-family="'Liberation Sans'" font-size="14.71" font-weight="normal" font-style="normal" fill="#0000ff" stroke="#0000ff" stroke-width="0.108" stroke-linejoin="round" text-anchor="start">500Hz</text>
<text transform="translate(431.64,179.46) scale(0.9733,1)" font-family="'Liberation Sans'" font-size="14.43" font-weight="normal" font-style="normal" fill="#ff0000" stroke="#ff0000" stroke-width="0.104" stroke-linejoin="round" text-anchor="start">5kHz</text>
<text transform="translate(55.23,42.45) scale(0.8679,1)" font-family="'Liberation Sans'" font-size="34.97" font-weight="normal" font-style="normal" fill="#000" stroke="#000" stroke-width="0.564" stroke-linejoin="round" text-anchor="start">S</text>
<text transform="translate(75.06,48.60) scale(1.0783,1)" font-family="'Liberation Sans'" font-size="24.93" font-weight="normal" font-style="normal" fill="#000" stroke="#000" stroke-width="0.162" stroke-linejoin="round" text-anchor="start">Y</text>
<text transform="translate(100.67,39.63) scale(0.9468,1)" font-family="'Liberation Sans'" font-size="16.04" font-weight="bold" font-style="italic" fill="#000" stroke="#000" stroke-width="0.339" stroke-linejoin="round" text-anchor="start">(</text>
<g transform="translate(107.06,39.70) scale(1.1238,1)" font-family="'Liberation Sans'" font-size="14.20" font-weight="bold" font-style="italic" fill="#000" stroke="#000" stroke-width="0.316" stroke-linejoin="round" ><path d="M380 0L604 1152L223 938L270 1180L666 1409H936L661 0Z" transform="translate(0.00,0) scale(0.00694,-0.00694)" fill="#000" stroke="#000" stroke-width="45.6" stroke-linejoin="round" /><text x="7.90" y="0">/Hz</text></g>
<text transform="translate(140.84,39.63) scale(0.9942,1)" font-family="'Liberation Sans'" font-size="16.04" font-weight="bold" font-style="italic" fill="#000" stroke="#000" stroke-width="0.323" stroke-linejoin="round" text-anchor="start">)</text>
<text transform="translate(292.00,40.23) scale(0.9340,1)" font-family="'Liberation Sans'" font-size="27.27" font-weight="bold" font-style="italic" fill="#000" text-anchor="start">a</text>
<text transform="translate(498.56,32.15) scale(0.9122,1)" font-family="'Liberation Sans'" font-size="34.97" font-weight="normal" font-style="normal" fill="#000" stroke="#000" stroke-width="0.537" stroke-linejoin="round" text-anchor="start">S</text>
<text transform="translate(520.88,27.94) scale(1.0882,1)" font-family="'Liberation Serif'" font-size="16.31" font-weight="normal" font-style="normal" fill="#000" stroke="#000" stroke-width="0.105" stroke-linejoin="round" text-anchor="start">δ</text>
<text transform="translate(528.90,27.94) scale(1.1640,1)" font-family="'Liberation Serif'" font-size="16.38" font-weight="normal" font-style="normal" fill="#000" stroke="#000" stroke-width="0.099" stroke-linejoin="round" text-anchor="start">ν</text>
<text transform="translate(525.40,47.13) scale(1.0795,1)" font-family="'Liberation Serif'" font-size="17.23" font-weight="normal" font-style="normal" fill="#000" stroke="#000" stroke-width="0.112" stroke-linejoin="round" text-anchor="start">ν</text>
<text transform="translate(547.87,28.13) scale(0.9468,1)" font-family="'Liberation Sans'" font-size="16.04" font-weight="bold" font-style="italic" fill="#000" stroke="#000" stroke-width="0.339" stroke-linejoin="round" text-anchor="start">(</text>
<g transform="translate(554.26,28.20) scale(1.1238,1)" font-family="'Liberation Sans'" font-size="14.20" font-weight="bold" font-style="italic" fill="#000" stroke="#000" stroke-width="0.316" stroke-linejoin="round" ><path d="M380 0L604 1152L223 938L270 1180L666 1409H936L661 0Z" transform="translate(0.00,0) scale(0.00694,-0.00694)" fill="#000" stroke="#000" stroke-width="45.6" stroke-linejoin="round" /><text x="7.90" y="0">/Hz</text></g>
<text transform="translate(588.04,28.13) scale(0.9942,1)" font-family="'Liberation Sans'" font-size="16.04" font-weight="bold" font-style="italic" fill="#000" stroke="#000" stroke-width="0.323" stroke-linejoin="round" text-anchor="start">)</text>
<text transform="translate(44.90,371.50) scale(0.9927,1)" font-family="'Liberation Sans'" font-size="23.91" font-weight="normal" font-style="normal" fill="#000" stroke="#000" stroke-width="0.169" stroke-linejoin="round" text-anchor="start">P</text>
<text transform="translate(59.24,375.28) scale(1.0793,1)" font-family="'Liberation Sans'" font-size="14.86" font-weight="normal" font-style="normal" fill="#000" stroke="#000" stroke-width="0.096" stroke-linejoin="round" text-anchor="start">b</text>
<text transform="translate(175.82,365.95) scale(0.9861,1)" font-family="'Liberation Sans'" font-size="25.44" font-weight="bold" font-style="italic" fill="#000" text-anchor="start">b</text>
<text transform="translate(76.30,531.50) scale(0.9550,1)" font-family="'Liberation Sans'" font-size="14.51" font-weight="normal" font-style="normal" fill="#000" stroke="#000" stroke-width="0.106" stroke-linejoin="round" text-anchor="end">0</text>
<text transform="translate(76.30,498.00) scale(0.9550,1)" font-family="'Liberation Sans'" font-size="14.51" font-weight="normal" font-style="normal" fill="#000" stroke="#000" stroke-width="0.106" stroke-linejoin="round" text-anchor="end">0.25</text>
<text transform="translate(76.30,464.50) scale(0.9550,1)" font-family="'Liberation Sans'" font-size="14.51" font-weight="normal" font-style="normal" fill="#000" stroke="#000" stroke-width="0.106" stroke-linejoin="round" text-anchor="end">0.5</text>
<text transform="translate(76.30,431.00) scale(0.9550,1)" font-family="'Liberation Sans'" font-size="14.51" font-weight="normal" font-style="normal" fill="#000" stroke="#000" stroke-width="0.106" stroke-linejoin="round" text-anchor="end">0.75</text>
<g transform="translate(76.30,397.50) scale(0.9550,1)" font-family="'Liberation Sans'" font-size="14.51" font-weight="normal" font-style="normal" fill="#000" stroke="#000" stroke-width="0.106" stroke-linejoin="round" ><path d="M515 0V1237L197 1010V1180L530 1409H696V0Z" transform="translate(-8.07,0) scale(0.00708,-0.00708)" fill="#000" stroke="#000" stroke-width="15.0" stroke-linejoin="round" /></g>
<g transform="translate(116.70,553.61) scale(0.9749,1)" font-family="'Liberation Sans'" font-size="14.20" font-weight="normal" font-style="normal" fill="#000" stroke="#000" stroke-width="0.102" stroke-linejoin="round" ><text x="0.00" y="0">5.3</text><path d="M515 0V1237L197 1010V1180L530 1409H696V0Z" transform="translate(19.73,0) scale(0.00693,-0.00693)" fill="#000" stroke="#000" stroke-width="14.7" stroke-linejoin="round" /><text x="27.63" y="0">3898</text></g>
<g transform="translate(189.70,553.61) scale(0.9681,1)" font-family="'Liberation Sans'" font-size="14.30" font-weight="normal" font-style="normal" fill="#000" stroke="#000" stroke-width="0.103" stroke-linejoin="round" ><text x="0.00" y="0">5.3</text><path d="M515 0V1237L197 1010V1180L530 1409H696V0Z" transform="translate(19.87,0) scale(0.00698,-0.00698)" fill="#000" stroke="#000" stroke-width="14.8" stroke-linejoin="round" /><text x="27.82" y="0">3903</text></g>
<text transform="translate(91.65,578.00) scale(0.9965,1)" font-family="'Liberation Sans'" font-size="20.86" font-weight="bold" font-style="normal" fill="#000" text-anchor="start">Frequency (GHz)</text>
<text transform="translate(112.75,420.65) scale(0.9423,1)" font-family="'Liberation Sans'" font-size="14.71" font-weight="normal" font-style="normal" fill="#000" stroke="#000" stroke-width="0.109" stroke-linejoin="round" text-anchor="start">500Hz</text>
<text transform="translate(112.75,454.15) scale(0.9420,1)" font-family="'Liberation Sans'" font-size="14.71" font-weight="normal" font-style="normal" fill="#000" stroke="#000" stroke-width="0.109" stroke-linejoin="round" text-anchor="start">5kHz</text>
<text transform="translate(358.16,369.02) scale(1.0472,1)" font-family="'Liberation Sans'" font-size="21.33" font-weight="normal" font-style="normal" fill="#000" stroke="#000" stroke-width="0.143" stroke-linejoin="round" text-anchor="start">ρ</text>
<text transform="translate(370.69,372.50) scale(1.0304,1)" font-family="'Liberation Sans'" font-size="15.22" font-weight="normal" font-style="normal" fill="#000" stroke="#000" stroke-width="0.103" stroke-linejoin="round" text-anchor="start">Y</text>
<text transform="translate(460.43,366.24) scale(0.9933,1)" font-family="'Liberation Sans'" font-size="26.00" font-weight="bold" font-style="italic" fill="#000" text-anchor="start">c</text>
<text transform="translate(359.70,531.50) scale(0.9550,1)" font-family="'Liberation Sans'" font-size="14.51" font-weight="normal" font-style="normal" fill="#000" stroke="#000" stroke-width="0.106" stroke-linejoin="round" text-anchor="end">0.00</text>
<text transform="translate(359.70,498.00) scale(0.9550,1)" font-family="'Liberation Sans'" font-size="14.51" font-weight="normal" font-style="normal" fill="#000" stroke="#000" stroke-width="0.106" stroke-linejoin="round" text-anchor="end">0.05</text>
<g transform="translate(359.70,464.50) scale(0.9550,1)" font-family="'Liberation Sans'" font-size="14.51" font-weight="normal" font-style="normal" fill="#000" stroke="#000" stroke-width="0.106" stroke-linejoin="round" ><text x="-28.23" y="0">0.</text><path d="M515 0V1237L197 1010V1180L530 1409H696V0Z" transform="translate(-16.14,0) scale(0.00708,-0.00708)" fill="#000" stroke="#000" stroke-width="15.0" stroke-linejoin="round" /><text x="-8.07" y="0">0</text></g>
<g transform="translate(359.70,431.00) scale(0.9550,1)" font-family="'Liberation Sans'" font-size="14.51" font-weight="normal" font-style="normal" fill="#000" stroke="#000" stroke-width="0.106" stroke-linejoin="round" ><text x="-28.23" y="0">0.</text><path d="M515 0V1237L197 1010V1180L530 1409H696V0Z" transform="translate(-16.14,0) scale(0.00708,-0.00708)" fill="#000" stroke="#000" stroke-width="15.0" stroke-linejoin="round" /><text x="-8.07" y="0">5</text></g>
<text transform="translate(359.70,397.50) scale(0.9550,1)" font-family="'Liberation Sans'" font-size="14.51" font-weight="normal" font-style="normal" fill="#000" stroke="#000" stroke-width="0.106" stroke-linejoin="round" text-anchor="end">0.20</text>
<g transform="translate(353.70,553.65) scale(0.9773,1)" font-family="'Liberation Sans'" font-size="14.51" font-weight="normal" font-style="normal" fill="#000" stroke="#000" stroke-width="0.104" stroke-linejoin="round" ><text x="0.00" y="0">0.000</text><path d="M515 0V1237L197 1010V1180L530 1409H696V0Z" transform="translate(36.30,0) scale(0.00708,-0.00708)" fill="#000" stroke="#000" stroke-width="14.7" stroke-linejoin="round" /></g>
<g transform="translate(466.60,553.65) scale(0.9550,1)" font-family="'Liberation Sans'" font-size="14.51" font-weight="normal" font-style="normal" fill="#000" stroke="#000" stroke-width="0.106" stroke-linejoin="round" ><text x="-14.12" y="0">0.0</text><path d="M515 0V1237L197 1010V1180L530 1409H696V0Z" transform="translate(6.05,0) scale(0.00708,-0.00708)" fill="#000" stroke="#000" stroke-width="15.0" stroke-linejoin="round" /></g>
<g transform="translate(512.60,553.65) scale(0.9550,1)" font-family="'Liberation Sans'" font-size="14.51" font-weight="normal" font-style="normal" fill="#000" stroke="#000" stroke-width="0.106" stroke-linejoin="round" ><text x="-10.08" y="0">0.</text><path d="M515 0V1237L197 1010V1180L530 1409H696V0Z" transform="translate(2.02,0) scale(0.00708,-0.00708)" fill="#000" stroke="#000" stroke-width="15.0" stroke-linejoin="round" /></g>
<g transform="translate(558.60,553.65) scale(0.9550,1)" font-family="'Liberation Sans'" font-size="14.51" font-weight="normal" font-style="normal" fill="#000" stroke="#000" stroke-width="0.106" stroke-linejoin="round" ><path d="M515 0V1237L197 1010V1180L530 1409H696V0Z" transform="translate(-4.03,0) scale(0.00708,-0.00708)" fill="#000" stroke="#000" stroke-width="15.0" stroke-linejoin="round" /></g>
<text transform="translate(427.29,577.90) scale(1.0198,1)" font-family="'Liberation Sans'" font-size="20.43" font-weight="bold" font-style="normal" fill="#000" text-anchor="start">Time (s)</text>
<text transform="translate(491.45,414.25) scale(0.9442,1)" font-family="'Liberation Sans'" font-size="14.57" font-weight="normal" font-style="normal" fill="#000" stroke="#000" stroke-width="0.108" stroke-linejoin="round" text-anchor="start">500Hz</text>
<text transform="translate(491.45,447.85) scale(0.9387,1)" font-family="'Liberation Sans'" font-size="14.57" font-weight="normal" font-style="normal" fill="#000" stroke="#000" stroke-width="0.109" stroke-linejoin="round" text-anchor="start">5kHz</text>
<line x1="520.4" y1="31.8" x2="538.3" y2="31.8" stroke="#333" stroke-width="1.2"/>
</svg>
</body></html>
